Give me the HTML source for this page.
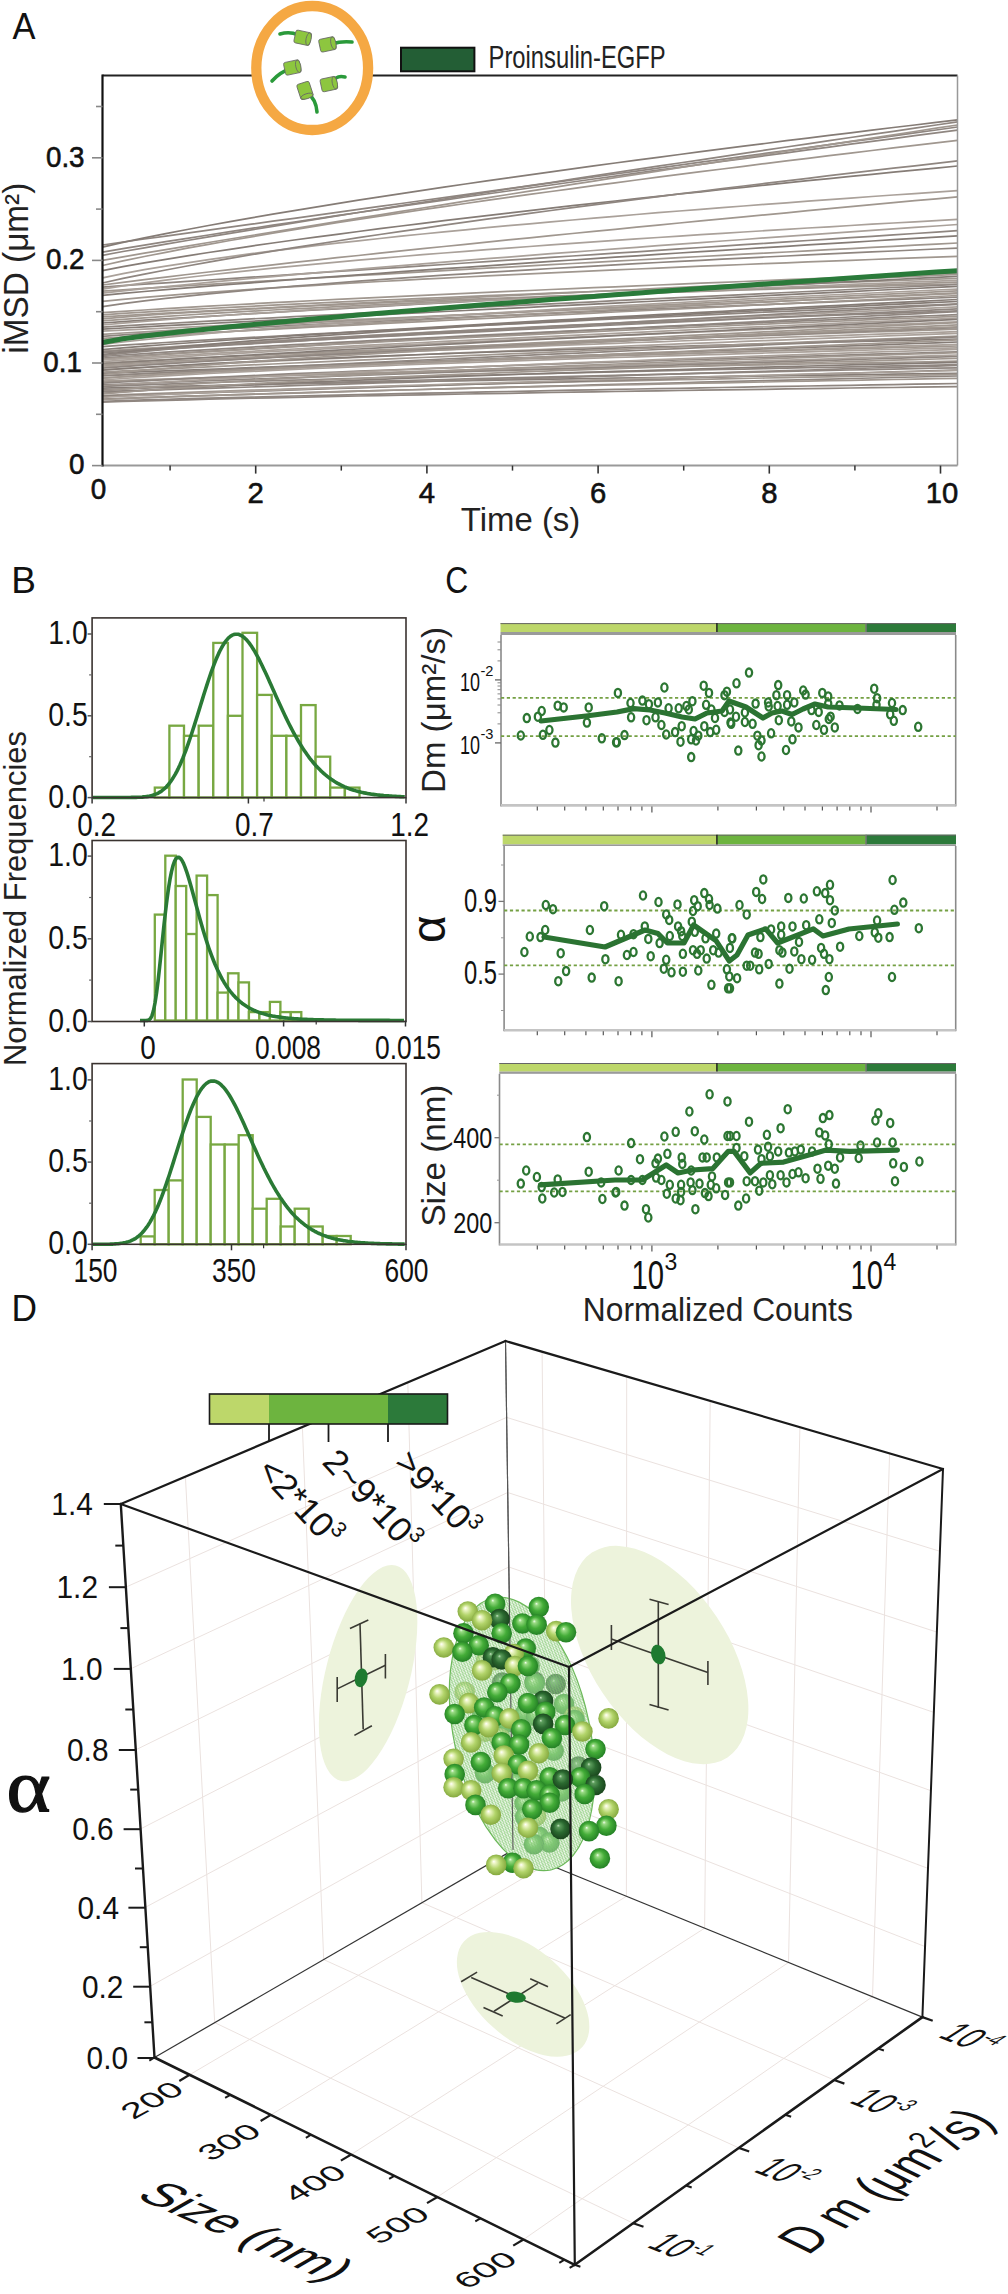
<!DOCTYPE html>
<html><head><meta charset="utf-8"><style>
html,body{margin:0;padding:0;background:#fff;}
svg{display:block;}
</style></head><body>
<svg width="1008" height="2294" viewBox="0 0 1008 2294" font-family="Liberation Sans, sans-serif">
<rect width="1008" height="2294" fill="#fff"/>
<text x="12.5" y="38.9" font-size="36.5" text-anchor="start" fill="#111" textLength="23" lengthAdjust="spacingAndGlyphs" >A</text>
<g fill="none" stroke-width="1.7">
<path d="M102.5,245.0 L123.0,242.0 L144.4,239.0 L165.8,236.1 L187.2,233.1 L208.6,230.1 L230.0,227.2 L251.4,224.2 L272.8,221.2 L294.2,218.3 L315.6,215.3 L337.0,212.4 L358.4,209.4 L379.8,206.4 L401.2,203.5 L422.6,200.5 L444.0,197.6 L465.4,194.6 L486.8,191.7 L508.2,188.7 L529.6,185.8 L551.0,182.8 L572.4,179.9 L593.8,177.0 L615.2,174.0 L636.6,171.1 L658.0,168.1 L679.4,165.2 L700.8,162.2 L722.2,159.3 L743.6,156.4 L765.0,153.4 L786.4,150.5 L807.8,147.6 L829.2,144.6 L850.6,141.7 L872.0,138.8 L893.4,135.8 L914.8,132.9 L936.2,130.0 L957.5,127.0" stroke="#8f8680"/>
<path d="M102.5,247.1 L123.0,242.4 L144.4,237.9 L165.8,233.6 L187.2,229.5 L208.6,225.5 L230.0,221.6 L251.4,217.9 L272.8,214.2 L294.2,210.6 L315.6,207.1 L337.0,203.6 L358.4,200.2 L379.8,196.9 L401.2,193.6 L422.6,190.3 L444.0,187.2 L465.4,184.0 L486.8,180.9 L508.2,177.8 L529.6,174.8 L551.0,171.8 L572.4,168.8 L593.8,165.9 L615.2,163.0 L636.6,160.1 L658.0,157.3 L679.4,154.5 L700.8,151.7 L722.2,148.9 L743.6,146.2 L765.0,143.5 L786.4,140.7 L807.8,138.1 L829.2,135.4 L850.6,132.8 L872.0,130.1 L893.4,127.5 L914.8,125.0 L936.2,122.4 L957.5,119.8" stroke="#857c76"/>
<path d="M102.5,252.2 L123.0,248.6 L144.4,245.1 L165.8,241.7 L187.2,238.3 L208.6,235.0 L230.0,231.7 L251.4,228.4 L272.8,225.2 L294.2,222.0 L315.6,218.8 L337.0,215.6 L358.4,212.5 L379.8,209.3 L401.2,206.2 L422.6,203.2 L444.0,200.1 L465.4,197.0 L486.8,194.0 L508.2,191.0 L529.6,188.0 L551.0,185.0 L572.4,182.0 L593.8,179.0 L615.2,176.1 L636.6,173.1 L658.0,170.2 L679.4,167.3 L700.8,164.4 L722.2,161.5 L743.6,158.6 L765.0,155.7 L786.4,152.8 L807.8,149.9 L829.2,147.1 L850.6,144.2 L872.0,141.4 L893.4,138.6 L914.8,135.7 L936.2,132.9 L957.5,130.1" stroke="#8f8680"/>
<path d="M102.5,255.3 L123.0,251.5 L144.4,247.8 L165.8,244.1 L187.2,240.5 L208.6,236.9 L230.0,233.3 L251.4,229.8 L272.8,226.3 L294.2,222.8 L315.6,219.3 L337.0,215.9 L358.4,212.5 L379.8,209.1 L401.2,205.7 L422.6,202.3 L444.0,199.0 L465.4,195.7 L486.8,192.3 L508.2,189.0 L529.6,185.7 L551.0,182.5 L572.4,179.2 L593.8,175.9 L615.2,172.7 L636.6,169.4 L658.0,166.2 L679.4,163.0 L700.8,159.8 L722.2,156.6 L743.6,153.4 L765.0,150.2 L786.4,147.0 L807.8,143.9 L829.2,140.7 L850.6,137.5 L872.0,134.4 L893.4,131.3 L914.8,128.1 L936.2,125.0 L957.5,121.9" stroke="#8f8680"/>
<path d="M102.5,260.4 L123.0,256.8 L144.4,253.2 L165.8,249.6 L187.2,246.1 L208.6,242.5 L230.0,239.0 L251.4,235.5 L272.8,232.0 L294.2,228.6 L315.6,225.1 L337.0,221.7 L358.4,218.2 L379.8,214.8 L401.2,211.4 L422.6,208.0 L444.0,204.6 L465.4,201.2 L486.8,197.8 L508.2,194.5 L529.6,191.1 L551.0,187.8 L572.4,184.4 L593.8,181.1 L615.2,177.7 L636.6,174.4 L658.0,171.1 L679.4,167.7 L700.8,164.4 L722.2,161.1 L743.6,157.8 L765.0,154.5 L786.4,151.2 L807.8,147.9 L829.2,144.6 L850.6,141.3 L872.0,138.1 L893.4,134.8 L914.8,131.5 L936.2,128.2 L957.5,125.0" stroke="#a0978f"/>
<path d="M102.5,265.5 L123.0,260.9 L144.4,256.5 L165.8,252.3 L187.2,248.2 L208.6,244.3 L230.0,240.5 L251.4,236.8 L272.8,233.2 L294.2,229.6 L315.6,226.2 L337.0,222.7 L358.4,219.4 L379.8,216.1 L401.2,212.9 L422.6,209.7 L444.0,206.6 L465.4,203.5 L486.8,200.4 L508.2,197.4 L529.6,194.4 L551.0,191.5 L572.4,188.6 L593.8,185.7 L615.2,182.8 L636.6,180.0 L658.0,177.2 L679.4,174.4 L700.8,171.7 L722.2,169.0 L743.6,166.3 L765.0,163.6 L786.4,160.9 L807.8,158.3 L829.2,155.7 L850.6,153.1 L872.0,150.5 L893.4,147.9 L914.8,145.4 L936.2,142.9 L957.5,140.4" stroke="#a0978f"/>
<path d="M102.5,270.7 L123.0,266.7 L144.4,262.9 L165.8,259.3 L187.2,255.8 L208.6,252.5 L230.0,249.3 L251.4,246.1 L272.8,243.0 L294.2,240.0 L315.6,237.1 L337.0,234.3 L358.4,231.5 L379.8,228.7 L401.2,226.0 L422.6,223.3 L444.0,220.7 L465.4,218.1 L486.8,215.6 L508.2,213.1 L529.6,210.6 L551.0,208.1 L572.4,205.7 L593.8,203.3 L615.2,201.0 L636.6,198.6 L658.0,196.3 L679.4,194.0 L700.8,191.8 L722.2,189.5 L743.6,187.3 L765.0,185.1 L786.4,182.9 L807.8,180.7 L829.2,178.6 L850.6,176.4 L872.0,174.3 L893.4,172.2 L914.8,170.1 L936.2,168.1 L957.5,166.0" stroke="#857c76"/>
<path d="M102.5,277.8 L123.0,273.6 L144.4,269.7 L165.8,266.2 L187.2,262.8 L208.6,259.6 L230.0,256.6 L251.4,253.7 L272.8,250.9 L294.2,248.3 L315.6,245.7 L337.0,243.2 L358.4,240.8 L379.8,238.5 L401.2,236.2 L422.6,234.0 L444.0,231.9 L465.4,229.8 L486.8,227.7 L508.2,225.7 L529.6,223.8 L551.0,221.8 L572.4,220.0 L593.8,218.1 L615.2,216.3 L636.6,214.5 L658.0,212.7 L679.4,211.0 L700.8,209.3 L722.2,207.6 L743.6,206.0 L765.0,204.4 L786.4,202.8 L807.8,201.2 L829.2,199.6 L850.6,198.1 L872.0,196.5 L893.4,195.0 L914.8,193.6 L936.2,192.1 L957.5,190.6" stroke="#aaa19a"/>
<path d="M102.5,283.0 L123.0,278.4 L144.4,274.1 L165.8,270.0 L187.2,266.0 L208.6,262.1 L230.0,258.4 L251.4,254.7 L272.8,251.2 L294.2,247.7 L315.6,244.3 L337.0,241.0 L358.4,237.7 L379.8,234.5 L401.2,231.4 L422.6,228.3 L444.0,225.2 L465.4,222.2 L486.8,219.2 L508.2,216.3 L529.6,213.4 L551.0,210.5 L572.4,207.7 L593.8,204.9 L615.2,202.1 L636.6,199.3 L658.0,196.6 L679.4,193.9 L700.8,191.3 L722.2,188.6 L743.6,186.0 L765.0,183.4 L786.4,180.8 L807.8,178.3 L829.2,175.7 L850.6,173.2 L872.0,170.7 L893.4,168.2 L914.8,165.8 L936.2,163.3 L957.5,160.9" stroke="#8f8680"/>
<path d="M102.5,285.0 L123.0,282.3 L144.4,279.7 L165.8,277.1 L187.2,274.5 L208.6,272.0 L230.0,269.6 L251.4,267.2 L272.8,264.8 L294.2,262.4 L315.6,260.1 L337.0,257.7 L358.4,255.5 L379.8,253.2 L401.2,250.9 L422.6,248.7 L444.0,246.5 L465.4,244.3 L486.8,242.1 L508.2,239.9 L529.6,237.8 L551.0,235.6 L572.4,233.5 L593.8,231.4 L615.2,229.3 L636.6,227.2 L658.0,225.1 L679.4,223.0 L700.8,220.9 L722.2,218.9 L743.6,216.8 L765.0,214.8 L786.4,212.8 L807.8,210.7 L829.2,208.7 L850.6,206.7 L872.0,204.7 L893.4,202.7 L914.8,200.7 L936.2,198.8 L957.5,196.8" stroke="#a0978f"/>
<path d="M102.5,287.1 L123.0,285.7 L144.4,284.2 L165.8,282.8 L187.2,281.4 L208.6,280.0 L230.0,278.6 L251.4,277.2 L272.8,275.8 L294.2,274.3 L315.6,272.9 L337.0,271.5 L358.4,270.1 L379.8,268.7 L401.2,267.3 L422.6,265.9 L444.0,264.5 L465.4,263.0 L486.8,261.6 L508.2,260.2 L529.6,258.8 L551.0,257.4 L572.4,256.0 L593.8,254.6 L615.2,253.2 L636.6,251.8 L658.0,250.4 L679.4,248.9 L700.8,247.5 L722.2,246.1 L743.6,244.7 L765.0,243.3 L786.4,241.9 L807.8,240.5 L829.2,239.1 L850.6,237.7 L872.0,236.3 L893.4,234.9 L914.8,233.5 L936.2,232.1 L957.5,230.6" stroke="#8f8680"/>
<path d="M102.5,289.1 L123.0,285.9 L144.4,282.9 L165.8,280.1 L187.2,277.5 L208.6,275.0 L230.0,272.6 L251.4,270.4 L272.8,268.2 L294.2,266.1 L315.6,264.1 L337.0,262.1 L358.4,260.2 L379.8,258.3 L401.2,256.5 L422.6,254.7 L444.0,253.0 L465.4,251.3 L486.8,249.7 L508.2,248.1 L529.6,246.5 L551.0,244.9 L572.4,243.4 L593.8,241.9 L615.2,240.4 L636.6,238.9 L658.0,237.5 L679.4,236.1 L700.8,234.7 L722.2,233.3 L743.6,232.0 L765.0,230.7 L786.4,229.3 L807.8,228.0 L829.2,226.8 L850.6,225.5 L872.0,224.2 L893.4,223.0 L914.8,221.8 L936.2,220.6 L957.5,219.4" stroke="#aaa19a"/>
<path d="M102.5,291.2 L123.0,289.8 L144.4,288.4 L165.8,287.1 L187.2,285.7 L208.6,284.4 L230.0,283.1 L251.4,281.8 L272.8,280.5 L294.2,279.3 L315.6,278.0 L337.0,276.8 L358.4,275.5 L379.8,274.3 L401.2,273.1 L422.6,271.9 L444.0,270.6 L465.4,269.4 L486.8,268.2 L508.2,267.1 L529.6,265.9 L551.0,264.7 L572.4,263.5 L593.8,262.3 L615.2,261.2 L636.6,260.0 L658.0,258.8 L679.4,257.7 L700.8,256.5 L722.2,255.4 L743.6,254.2 L765.0,253.1 L786.4,252.0 L807.8,250.8 L829.2,249.7 L850.6,248.6 L872.0,247.4 L893.4,246.3 L914.8,245.2 L936.2,244.1 L957.5,243.0" stroke="#a0978f"/>
<path d="M102.5,293.2 L123.0,290.9 L144.4,288.7 L165.8,286.6 L187.2,284.5 L208.6,282.4 L230.0,280.4 L251.4,278.5 L272.8,276.6 L294.2,274.7 L315.6,272.8 L337.0,271.0 L358.4,269.2 L379.8,267.4 L401.2,265.6 L422.6,263.9 L444.0,262.1 L465.4,260.4 L486.8,258.7 L508.2,257.1 L529.6,255.4 L551.0,253.7 L572.4,252.1 L593.8,250.5 L615.2,248.9 L636.6,247.3 L658.0,245.7 L679.4,244.1 L700.8,242.6 L722.2,241.0 L743.6,239.5 L765.0,237.9 L786.4,236.4 L807.8,234.9 L829.2,233.4 L850.6,231.9 L872.0,230.4 L893.4,228.9 L914.8,227.4 L936.2,226.0 L957.5,224.5" stroke="#aaa19a"/>
<path d="M102.5,295.3 L123.0,293.4 L144.4,291.5 L165.8,289.7 L187.2,287.9 L208.6,286.2 L230.0,284.5 L251.4,282.8 L272.8,281.2 L294.2,279.5 L315.6,277.9 L337.0,276.4 L358.4,274.8 L379.8,273.3 L401.2,271.7 L422.6,270.2 L444.0,268.7 L465.4,267.3 L486.8,265.8 L508.2,264.3 L529.6,262.9 L551.0,261.4 L572.4,260.0 L593.8,258.6 L615.2,257.2 L636.6,255.8 L658.0,254.4 L679.4,253.0 L700.8,251.7 L722.2,250.3 L743.6,249.0 L765.0,247.6 L786.4,246.3 L807.8,244.9 L829.2,243.6 L850.6,242.3 L872.0,241.0 L893.4,239.7 L914.8,238.4 L936.2,237.1 L957.5,235.8" stroke="#857c76"/>
<path d="M102.5,301.4 L123.0,299.4 L144.4,297.4 L165.8,295.6 L187.2,293.9 L208.6,292.3 L230.0,290.8 L251.4,289.3 L272.8,287.9 L294.2,286.6 L315.6,285.3 L337.0,284.0 L358.4,282.7 L379.8,281.5 L401.2,280.4 L422.6,279.2 L444.0,278.1 L465.4,277.0 L486.8,275.9 L508.2,274.9 L529.6,273.9 L551.0,272.9 L572.4,271.9 L593.8,270.9 L615.2,269.9 L636.6,269.0 L658.0,268.1 L679.4,267.1 L700.8,266.2 L722.2,265.4 L743.6,264.5 L765.0,263.6 L786.4,262.8 L807.8,261.9 L829.2,261.1 L850.6,260.3 L872.0,259.5 L893.4,258.7 L914.8,257.9 L936.2,257.1 L957.5,256.3" stroke="#a0978f"/>
<path d="M102.5,306.6 L123.0,303.6 L144.4,300.9 L165.8,298.4 L187.2,296.1 L208.6,293.9 L230.0,291.9 L251.4,289.9 L272.8,288.0 L294.2,286.2 L315.6,284.5 L337.0,282.8 L358.4,281.2 L379.8,279.6 L401.2,278.1 L422.6,276.6 L444.0,275.2 L465.4,273.8 L486.8,272.4 L508.2,271.1 L529.6,269.8 L551.0,268.5 L572.4,267.3 L593.8,266.1 L615.2,264.9 L636.6,263.7 L658.0,262.5 L679.4,261.4 L700.8,260.3 L722.2,259.2 L743.6,258.1 L765.0,257.0 L786.4,256.0 L807.8,254.9 L829.2,253.9 L850.6,252.9 L872.0,251.9 L893.4,251.0 L914.8,250.0 L936.2,249.0 L957.5,248.1" stroke="#8f8680"/>
<path d="M102.5,312.7 L123.0,311.3 L144.4,310.0 L165.8,308.7 L187.2,307.4 L208.6,306.2 L230.0,305.0 L251.4,303.8 L272.8,302.7 L294.2,301.6 L315.6,300.5 L337.0,299.4 L358.4,298.4 L379.8,297.4 L401.2,296.3 L422.6,295.3 L444.0,294.3 L465.4,293.3 L486.8,292.4 L508.2,291.4 L529.6,290.5 L551.0,289.5 L572.4,288.6 L593.8,287.7 L615.2,286.8 L636.6,285.9 L658.0,285.0 L679.4,284.1 L700.8,283.2 L722.2,282.3 L743.6,281.5 L765.0,280.6 L786.4,279.7 L807.8,278.9 L829.2,278.0 L850.6,277.2 L872.0,276.4 L893.4,275.6 L914.8,274.7 L936.2,273.9 L957.5,273.1" stroke="#a0978f"/>
<path d="M102.5,314.8 L123.0,313.4 L144.4,312.1 L165.8,310.8 L187.2,309.6 L208.6,308.5 L230.0,307.4 L251.4,306.3 L272.8,305.2 L294.2,304.2 L315.6,303.2 L337.0,302.2 L358.4,301.2 L379.8,300.2 L401.2,299.3 L422.6,298.4 L444.0,297.5 L465.4,296.6 L486.8,295.7 L508.2,294.8 L529.6,294.0 L551.0,293.1 L572.4,292.3 L593.8,291.5 L615.2,290.6 L636.6,289.8 L658.0,289.0 L679.4,288.2 L700.8,287.4 L722.2,286.7 L743.6,285.9 L765.0,285.1 L786.4,284.4 L807.8,283.6 L829.2,282.9 L850.6,282.1 L872.0,281.4 L893.4,280.7 L914.8,280.0 L936.2,279.2 L957.5,278.5" stroke="#a0978f"/>
<path d="M102.5,316.8 L123.0,315.6 L144.4,314.4 L165.8,313.2 L187.2,312.1 L208.6,310.9 L230.0,309.8 L251.4,308.7 L272.8,307.6 L294.2,306.4 L315.6,305.3 L337.0,304.2 L358.4,303.2 L379.8,302.1 L401.2,301.0 L422.6,299.9 L444.0,298.9 L465.4,297.8 L486.8,296.7 L508.2,295.7 L529.6,294.6 L551.0,293.6 L572.4,292.6 L593.8,291.5 L615.2,290.5 L636.6,289.5 L658.0,288.4 L679.4,287.4 L700.8,286.4 L722.2,285.4 L743.6,284.4 L765.0,283.3 L786.4,282.3 L807.8,281.3 L829.2,280.3 L850.6,279.3 L872.0,278.3 L893.4,277.3 L914.8,276.3 L936.2,275.3 L957.5,274.4" stroke="#a0978f"/>
<path d="M102.5,318.9 L123.0,317.1 L144.4,315.5 L165.8,314.0 L187.2,312.7 L208.6,311.4 L230.0,310.1 L251.4,309.0 L272.8,307.9 L294.2,306.8 L315.6,305.7 L337.0,304.8 L358.4,303.8 L379.8,302.9 L401.2,302.0 L422.6,301.1 L444.0,300.2 L465.4,299.4 L486.8,298.6 L508.2,297.8 L529.6,297.0 L551.0,296.2 L572.4,295.5 L593.8,294.8 L615.2,294.1 L636.6,293.4 L658.0,292.7 L679.4,292.0 L700.8,291.3 L722.2,290.7 L743.6,290.0 L765.0,289.4 L786.4,288.7 L807.8,288.1 L829.2,287.5 L850.6,286.9 L872.0,286.3 L893.4,285.7 L914.8,285.2 L936.2,284.6 L957.5,284.0" stroke="#a0978f"/>
<path d="M102.5,320.9 L123.0,319.3 L144.4,317.8 L165.8,316.3 L187.2,315.0 L208.6,313.7 L230.0,312.4 L251.4,311.2 L272.8,310.0 L294.2,308.9 L315.6,307.8 L337.0,306.7 L358.4,305.7 L379.8,304.6 L401.2,303.6 L422.6,302.6 L444.0,301.7 L465.4,300.7 L486.8,299.8 L508.2,298.9 L529.6,298.0 L551.0,297.1 L572.4,296.2 L593.8,295.4 L615.2,294.5 L636.6,293.7 L658.0,292.8 L679.4,292.0 L700.8,291.2 L722.2,290.4 L743.6,289.6 L765.0,288.9 L786.4,288.1 L807.8,287.3 L829.2,286.6 L850.6,285.8 L872.0,285.1 L893.4,284.4 L914.8,283.6 L936.2,282.9 L957.5,282.2" stroke="#a0978f"/>
<path d="M102.5,323.0 L123.0,321.6 L144.4,320.2 L165.8,318.9 L187.2,317.6 L208.6,316.3 L230.0,315.0 L251.4,313.7 L272.8,312.5 L294.2,311.2 L315.6,310.0 L337.0,308.8 L358.4,307.6 L379.8,306.4 L401.2,305.2 L422.6,304.0 L444.0,302.8 L465.4,301.7 L486.8,300.5 L508.2,299.4 L529.6,298.2 L551.0,297.1 L572.4,296.0 L593.8,294.8 L615.2,293.7 L636.6,292.6 L658.0,291.5 L679.4,290.4 L700.8,289.3 L722.2,288.2 L743.6,287.1 L765.0,286.0 L786.4,284.9 L807.8,283.8 L829.2,282.7 L850.6,281.6 L872.0,280.6 L893.4,279.5 L914.8,278.4 L936.2,277.4 L957.5,276.3" stroke="#857c76"/>
<path d="M102.5,325.0 L123.0,323.1 L144.4,321.3 L165.8,319.6 L187.2,318.0 L208.6,316.5 L230.0,315.0 L251.4,313.6 L272.8,312.3 L294.2,310.9 L315.6,309.6 L337.0,308.4 L358.4,307.2 L379.8,306.0 L401.2,304.8 L422.6,303.7 L444.0,302.6 L465.4,301.5 L486.8,300.4 L508.2,299.4 L529.6,298.3 L551.0,297.3 L572.4,296.3 L593.8,295.3 L615.2,294.4 L636.6,293.4 L658.0,292.5 L679.4,291.5 L700.8,290.6 L722.2,289.7 L743.6,288.8 L765.0,287.9 L786.4,287.0 L807.8,286.2 L829.2,285.3 L850.6,284.4 L872.0,283.6 L893.4,282.8 L914.8,281.9 L936.2,281.1 L957.5,280.3" stroke="#aaa19a"/>
<path d="M102.5,327.1 L123.0,325.9 L144.4,324.7 L165.8,323.5 L187.2,322.4 L208.6,321.2 L230.0,320.1 L251.4,318.9 L272.8,317.8 L294.2,316.7 L315.6,315.6 L337.0,314.5 L358.4,313.4 L379.8,312.3 L401.2,311.3 L422.6,310.2 L444.0,309.1 L465.4,308.1 L486.8,307.0 L508.2,305.9 L529.6,304.9 L551.0,303.8 L572.4,302.8 L593.8,301.8 L615.2,300.7 L636.6,299.7 L658.0,298.6 L679.4,297.6 L700.8,296.6 L722.2,295.6 L743.6,294.6 L765.0,293.5 L786.4,292.5 L807.8,291.5 L829.2,290.5 L850.6,289.5 L872.0,288.5 L893.4,287.5 L914.8,286.5 L936.2,285.5 L957.5,284.5" stroke="#8f8680"/>
<path d="M102.5,329.1 L123.0,328.0 L144.4,326.9 L165.8,325.7 L187.2,324.6 L208.6,323.5 L230.0,322.4 L251.4,321.3 L272.8,320.2 L294.2,319.1 L315.6,318.0 L337.0,316.9 L358.4,315.8 L379.8,314.8 L401.2,313.7 L422.6,312.6 L444.0,311.5 L465.4,310.5 L486.8,309.4 L508.2,308.3 L529.6,307.3 L551.0,306.2 L572.4,305.2 L593.8,304.1 L615.2,303.1 L636.6,302.0 L658.0,301.0 L679.4,299.9 L700.8,298.9 L722.2,297.8 L743.6,296.8 L765.0,295.7 L786.4,294.7 L807.8,293.6 L829.2,292.6 L850.6,291.6 L872.0,290.5 L893.4,289.5 L914.8,288.5 L936.2,287.4 L957.5,286.4" stroke="#857c76"/>
<path d="M102.5,331.2 L123.0,330.2 L144.4,329.2 L165.8,328.2 L187.2,327.2 L208.6,326.2 L230.0,325.2 L251.4,324.2 L272.8,323.3 L294.2,322.3 L315.6,321.3 L337.0,320.4 L358.4,319.4 L379.8,318.5 L401.2,317.5 L422.6,316.6 L444.0,315.7 L465.4,314.7 L486.8,313.8 L508.2,312.8 L529.6,311.9 L551.0,311.0 L572.4,310.0 L593.8,309.1 L615.2,308.2 L636.6,307.3 L658.0,306.4 L679.4,305.4 L700.8,304.5 L722.2,303.6 L743.6,302.7 L765.0,301.8 L786.4,300.9 L807.8,299.9 L829.2,299.0 L850.6,298.1 L872.0,297.2 L893.4,296.3 L914.8,295.4 L936.2,294.5 L957.5,293.6" stroke="#aaa19a"/>
<path d="M102.5,334.3 L123.0,333.0 L144.4,331.8 L165.8,330.6 L187.2,329.4 L208.6,328.2 L230.0,327.1 L251.4,325.9 L272.8,324.8 L294.2,323.6 L315.6,322.5 L337.0,321.4 L358.4,320.3 L379.8,319.2 L401.2,318.1 L422.6,317.0 L444.0,315.9 L465.4,314.8 L486.8,313.7 L508.2,312.6 L529.6,311.5 L551.0,310.5 L572.4,309.4 L593.8,308.3 L615.2,307.3 L636.6,306.2 L658.0,305.2 L679.4,304.1 L700.8,303.1 L722.2,302.0 L743.6,301.0 L765.0,300.0 L786.4,298.9 L807.8,297.9 L829.2,296.9 L850.6,295.9 L872.0,294.8 L893.4,293.8 L914.8,292.8 L936.2,291.8 L957.5,290.8" stroke="#a0978f"/>
<path d="M102.5,336.3 L123.0,334.9 L144.4,333.6 L165.8,332.3 L187.2,331.1 L208.6,329.9 L230.0,328.7 L251.4,327.6 L272.8,326.5 L294.2,325.4 L315.6,324.3 L337.0,323.2 L358.4,322.2 L379.8,321.2 L401.2,320.1 L422.6,319.2 L444.0,318.2 L465.4,317.2 L486.8,316.2 L508.2,315.3 L529.6,314.4 L551.0,313.4 L572.4,312.5 L593.8,311.6 L615.2,310.7 L636.6,309.8 L658.0,308.9 L679.4,308.0 L700.8,307.2 L722.2,306.3 L743.6,305.4 L765.0,304.6 L786.4,303.7 L807.8,302.9 L829.2,302.1 L850.6,301.2 L872.0,300.4 L893.4,299.6 L914.8,298.8 L936.2,298.0 L957.5,297.2" stroke="#8f8680"/>
<path d="M102.5,338.4 L123.0,337.2 L144.4,336.0 L165.8,334.9 L187.2,333.7 L208.6,332.6 L230.0,331.5 L251.4,330.3 L272.8,329.2 L294.2,328.1 L315.6,327.0 L337.0,325.9 L358.4,324.8 L379.8,323.7 L401.2,322.6 L422.6,321.6 L444.0,320.5 L465.4,319.4 L486.8,318.4 L508.2,317.3 L529.6,316.2 L551.0,315.2 L572.4,314.1 L593.8,313.1 L615.2,312.0 L636.6,311.0 L658.0,309.9 L679.4,308.9 L700.8,307.8 L722.2,306.8 L743.6,305.7 L765.0,304.7 L786.4,303.7 L807.8,302.6 L829.2,301.6 L850.6,300.6 L872.0,299.6 L893.4,298.5 L914.8,297.5 L936.2,296.5 L957.5,295.5" stroke="#a0978f"/>
<path d="M102.5,340.4 L123.0,338.8 L144.4,337.3 L165.8,335.8 L187.2,334.3 L208.6,332.9 L230.0,331.5 L251.4,330.2 L272.8,328.9 L294.2,327.5 L315.6,326.2 L337.0,325.0 L358.4,323.7 L379.8,322.5 L401.2,321.3 L422.6,320.0 L444.0,318.8 L465.4,317.7 L486.8,316.5 L508.2,315.3 L529.6,314.2 L551.0,313.0 L572.4,311.9 L593.8,310.8 L615.2,309.7 L636.6,308.6 L658.0,307.5 L679.4,306.4 L700.8,305.3 L722.2,304.2 L743.6,303.1 L765.0,302.1 L786.4,301.0 L807.8,300.0 L829.2,298.9 L850.6,297.9 L872.0,296.9 L893.4,295.8 L914.8,294.8 L936.2,293.8 L957.5,292.8" stroke="#a0978f"/>
<path d="M102.5,344.5 L123.0,342.0 L144.4,339.7 L165.8,337.5 L187.2,335.4 L208.6,333.4 L230.0,331.6 L251.4,329.8 L272.8,328.0 L294.2,326.4 L315.6,324.8 L337.0,323.2 L358.4,321.7 L379.8,320.2 L401.2,318.8 L422.6,317.4 L444.0,316.0 L465.4,314.6 L486.8,313.3 L508.2,312.0 L529.6,310.8 L551.0,309.5 L572.4,308.3 L593.8,307.1 L615.2,305.9 L636.6,304.8 L658.0,303.6 L679.4,302.5 L700.8,301.4 L722.2,300.3 L743.6,299.2 L765.0,298.1 L786.4,297.1 L807.8,296.0 L829.2,295.0 L850.6,294.0 L872.0,293.0 L893.4,292.0 L914.8,291.0 L936.2,290.0 L957.5,289.1" stroke="#aaa19a"/>
<path d="M102.5,346.6 L123.0,345.2 L144.4,343.8 L165.8,342.5 L187.2,341.2 L208.6,339.9 L230.0,338.7 L251.4,337.4 L272.8,336.3 L294.2,335.1 L315.6,333.9 L337.0,332.8 L358.4,331.7 L379.8,330.6 L401.2,329.5 L422.6,328.4 L444.0,327.3 L465.4,326.2 L486.8,325.2 L508.2,324.1 L529.6,323.1 L551.0,322.1 L572.4,321.1 L593.8,320.0 L615.2,319.0 L636.6,318.1 L658.0,317.1 L679.4,316.1 L700.8,315.1 L722.2,314.1 L743.6,313.2 L765.0,312.2 L786.4,311.3 L807.8,310.3 L829.2,309.4 L850.6,308.5 L872.0,307.5 L893.4,306.6 L914.8,305.7 L936.2,304.8 L957.5,303.9" stroke="#8f8680"/>
<path d="M102.5,349.6 L123.0,347.8 L144.4,346.2 L165.8,344.5 L187.2,343.0 L208.6,341.5 L230.0,340.0 L251.4,338.5 L272.8,337.1 L294.2,335.7 L315.6,334.3 L337.0,333.0 L358.4,331.7 L379.8,330.4 L401.2,329.1 L422.6,327.8 L444.0,326.5 L465.4,325.3 L486.8,324.1 L508.2,322.8 L529.6,321.6 L551.0,320.4 L572.4,319.3 L593.8,318.1 L615.2,316.9 L636.6,315.8 L658.0,314.7 L679.4,313.5 L700.8,312.4 L722.2,311.3 L743.6,310.2 L765.0,309.1 L786.4,308.0 L807.8,306.9 L829.2,305.8 L850.6,304.8 L872.0,303.7 L893.4,302.6 L914.8,301.6 L936.2,300.5 L957.5,299.5" stroke="#857c76"/>
<path d="M102.5,351.1 L123.0,349.7 L144.4,348.4 L165.8,347.0 L187.2,345.7 L208.6,344.5 L230.0,343.2 L251.4,342.0 L272.8,340.8 L294.2,339.6 L315.6,338.4 L337.0,337.2 L358.4,336.1 L379.8,334.9 L401.2,333.8 L422.6,332.7 L444.0,331.6 L465.4,330.5 L486.8,329.4 L508.2,328.3 L529.6,327.2 L551.0,326.1 L572.4,325.1 L593.8,324.0 L615.2,323.0 L636.6,321.9 L658.0,320.9 L679.4,319.9 L700.8,318.8 L722.2,317.8 L743.6,316.8 L765.0,315.8 L786.4,314.8 L807.8,313.8 L829.2,312.8 L850.6,311.8 L872.0,310.8 L893.4,309.8 L914.8,308.9 L936.2,307.9 L957.5,306.9" stroke="#aaa19a"/>
<path d="M102.5,351.7 L123.0,350.5 L144.4,349.2 L165.8,348.0 L187.2,346.8 L208.6,345.7 L230.0,344.5 L251.4,343.3 L272.8,342.2 L294.2,341.1 L315.6,339.9 L337.0,338.8 L358.4,337.7 L379.8,336.6 L401.2,335.6 L422.6,334.5 L444.0,333.4 L465.4,332.3 L486.8,331.3 L508.2,330.2 L529.6,329.2 L551.0,328.1 L572.4,327.1 L593.8,326.0 L615.2,325.0 L636.6,324.0 L658.0,322.9 L679.4,321.9 L700.8,320.9 L722.2,319.9 L743.6,318.9 L765.0,317.9 L786.4,316.9 L807.8,315.9 L829.2,314.9 L850.6,313.9 L872.0,312.9 L893.4,311.9 L914.8,310.9 L936.2,309.9 L957.5,308.9" stroke="#8f8680"/>
<path d="M102.5,352.8 L123.0,351.5 L144.4,350.2 L165.8,348.9 L187.2,347.6 L208.6,346.3 L230.0,345.0 L251.4,343.8 L272.8,342.5 L294.2,341.3 L315.6,340.0 L337.0,338.8 L358.4,337.5 L379.8,336.3 L401.2,335.1 L422.6,333.9 L444.0,332.7 L465.4,331.5 L486.8,330.2 L508.2,329.0 L529.6,327.8 L551.0,326.6 L572.4,325.4 L593.8,324.3 L615.2,323.1 L636.6,321.9 L658.0,320.7 L679.4,319.5 L700.8,318.3 L722.2,317.2 L743.6,316.0 L765.0,314.8 L786.4,313.6 L807.8,312.5 L829.2,311.3 L850.6,310.1 L872.0,309.0 L893.4,307.8 L914.8,306.7 L936.2,305.5 L957.5,304.3" stroke="#8f8680"/>
<path d="M102.5,354.6 L123.0,352.3 L144.4,350.1 L165.8,348.1 L187.2,346.2 L208.6,344.4 L230.0,342.6 L251.4,340.9 L272.8,339.3 L294.2,337.7 L315.6,336.2 L337.0,334.7 L358.4,333.3 L379.8,331.9 L401.2,330.5 L422.6,329.1 L444.0,327.8 L465.4,326.5 L486.8,325.2 L508.2,324.0 L529.6,322.8 L551.0,321.6 L572.4,320.4 L593.8,319.2 L615.2,318.1 L636.6,316.9 L658.0,315.8 L679.4,314.7 L700.8,313.6 L722.2,312.5 L743.6,311.5 L765.0,310.4 L786.4,309.4 L807.8,308.4 L829.2,307.3 L850.6,306.3 L872.0,305.3 L893.4,304.4 L914.8,303.4 L936.2,302.4 L957.5,301.5" stroke="#857c76"/>
<path d="M102.5,355.5 L123.0,353.3 L144.4,351.3 L165.8,349.4 L187.2,347.6 L208.6,346.0 L230.0,344.4 L251.4,342.9 L272.8,341.5 L294.2,340.1 L315.6,338.8 L337.0,337.5 L358.4,336.3 L379.8,335.1 L401.2,334.0 L422.6,332.8 L444.0,331.7 L465.4,330.7 L486.8,329.6 L508.2,328.6 L529.6,327.6 L551.0,326.6 L572.4,325.7 L593.8,324.8 L615.2,323.8 L636.6,322.9 L658.0,322.0 L679.4,321.2 L700.8,320.3 L722.2,319.5 L743.6,318.6 L765.0,317.8 L786.4,317.0 L807.8,316.2 L829.2,315.4 L850.6,314.7 L872.0,313.9 L893.4,313.1 L914.8,312.4 L936.2,311.7 L957.5,310.9" stroke="#8f8680"/>
<path d="M102.5,356.5 L123.0,355.0 L144.4,353.6 L165.8,352.2 L187.2,350.8 L208.6,349.6 L230.0,348.3 L251.4,347.1 L272.8,345.9 L294.2,344.7 L315.6,343.5 L337.0,342.4 L358.4,341.3 L379.8,340.2 L401.2,339.1 L422.6,338.0 L444.0,337.0 L465.4,335.9 L486.8,334.9 L508.2,333.9 L529.6,332.9 L551.0,331.9 L572.4,330.9 L593.8,330.0 L615.2,329.0 L636.6,328.0 L658.0,327.1 L679.4,326.2 L700.8,325.2 L722.2,324.3 L743.6,323.4 L765.0,322.5 L786.4,321.6 L807.8,320.7 L829.2,319.8 L850.6,318.9 L872.0,318.1 L893.4,317.2 L914.8,316.3 L936.2,315.5 L957.5,314.6" stroke="#8f8680"/>
<path d="M102.5,358.0 L123.0,356.6 L144.4,355.3 L165.8,353.9 L187.2,352.6 L208.6,351.3 L230.0,350.1 L251.4,348.8 L272.8,347.6 L294.2,346.3 L315.6,345.1 L337.0,343.9 L358.4,342.7 L379.8,341.5 L401.2,340.3 L422.6,339.2 L444.0,338.0 L465.4,336.8 L486.8,335.7 L508.2,334.6 L529.6,333.4 L551.0,332.3 L572.4,331.2 L593.8,330.0 L615.2,328.9 L636.6,327.8 L658.0,326.7 L679.4,325.6 L700.8,324.5 L722.2,323.4 L743.6,322.3 L765.0,321.3 L786.4,320.2 L807.8,319.1 L829.2,318.0 L850.6,317.0 L872.0,315.9 L893.4,314.8 L914.8,313.8 L936.2,312.7 L957.5,311.7" stroke="#8f8680"/>
<path d="M102.5,359.1 L123.0,357.4 L144.4,355.9 L165.8,354.4 L187.2,353.0 L208.6,351.7 L230.0,350.4 L251.4,349.1 L272.8,347.8 L294.2,346.6 L315.6,345.4 L337.0,344.2 L358.4,343.1 L379.8,342.0 L401.2,340.9 L422.6,339.8 L444.0,338.7 L465.4,337.7 L486.8,336.6 L508.2,335.6 L529.6,334.6 L551.0,333.6 L572.4,332.6 L593.8,331.6 L615.2,330.6 L636.6,329.7 L658.0,328.7 L679.4,327.8 L700.8,326.9 L722.2,326.0 L743.6,325.0 L765.0,324.1 L786.4,323.2 L807.8,322.4 L829.2,321.5 L850.6,320.6 L872.0,319.7 L893.4,318.9 L914.8,318.0 L936.2,317.2 L957.5,316.3" stroke="#a0978f"/>
<path d="M102.5,359.9 L123.0,358.6 L144.4,357.3 L165.8,356.1 L187.2,354.8 L208.6,353.6 L230.0,352.4 L251.4,351.3 L272.8,350.1 L294.2,349.0 L315.6,347.9 L337.0,346.8 L358.4,345.7 L379.8,344.6 L401.2,343.5 L422.6,342.5 L444.0,341.4 L465.4,340.4 L486.8,339.4 L508.2,338.3 L529.6,337.3 L551.0,336.3 L572.4,335.3 L593.8,334.3 L615.2,333.3 L636.6,332.3 L658.0,331.3 L679.4,330.3 L700.8,329.4 L722.2,328.4 L743.6,327.4 L765.0,326.5 L786.4,325.5 L807.8,324.6 L829.2,323.6 L850.6,322.7 L872.0,321.7 L893.4,320.8 L914.8,319.9 L936.2,319.0 L957.5,318.0" stroke="#aaa19a"/>
<path d="M102.5,361.7 L123.0,360.2 L144.4,358.8 L165.8,357.5 L187.2,356.3 L208.6,355.0 L230.0,353.8 L251.4,352.7 L272.8,351.5 L294.2,350.4 L315.6,349.3 L337.0,348.2 L358.4,347.2 L379.8,346.1 L401.2,345.1 L422.6,344.1 L444.0,343.1 L465.4,342.1 L486.8,341.1 L508.2,340.2 L529.6,339.2 L551.0,338.3 L572.4,337.3 L593.8,336.4 L615.2,335.5 L636.6,334.6 L658.0,333.7 L679.4,332.8 L700.8,331.9 L722.2,331.1 L743.6,330.2 L765.0,329.3 L786.4,328.5 L807.8,327.6 L829.2,326.8 L850.6,326.0 L872.0,325.1 L893.4,324.3 L914.8,323.5 L936.2,322.7 L957.5,321.9" stroke="#aaa19a"/>
<path d="M102.5,363.0 L123.0,361.8 L144.4,360.6 L165.8,359.5 L187.2,358.4 L208.6,357.4 L230.0,356.3 L251.4,355.4 L272.8,354.4 L294.2,353.4 L315.6,352.5 L337.0,351.6 L358.4,350.7 L379.8,349.8 L401.2,348.9 L422.6,348.1 L444.0,347.2 L465.4,346.4 L486.8,345.6 L508.2,344.7 L529.6,343.9 L551.0,343.1 L572.4,342.4 L593.8,341.6 L615.2,340.8 L636.6,340.0 L658.0,339.3 L679.4,338.5 L700.8,337.8 L722.2,337.0 L743.6,336.3 L765.0,335.6 L786.4,334.8 L807.8,334.1 L829.2,333.4 L850.6,332.7 L872.0,332.0 L893.4,331.3 L914.8,330.6 L936.2,329.9 L957.5,329.2" stroke="#a0978f"/>
<path d="M102.5,364.2 L123.0,362.7 L144.4,361.4 L165.8,360.0 L187.2,358.7 L208.6,357.5 L230.0,356.2 L251.4,355.0 L272.8,353.7 L294.2,352.5 L315.6,351.3 L337.0,350.2 L358.4,349.0 L379.8,347.8 L401.2,346.7 L422.6,345.5 L444.0,344.4 L465.4,343.3 L486.8,342.2 L508.2,341.1 L529.6,340.0 L551.0,338.9 L572.4,337.8 L593.8,336.8 L615.2,335.7 L636.6,334.6 L658.0,333.6 L679.4,332.5 L700.8,331.5 L722.2,330.5 L743.6,329.4 L765.0,328.4 L786.4,327.4 L807.8,326.4 L829.2,325.3 L850.6,324.3 L872.0,323.3 L893.4,322.3 L914.8,321.3 L936.2,320.3 L957.5,319.3" stroke="#857c76"/>
<path d="M102.5,364.7 L123.0,363.6 L144.4,362.5 L165.8,361.4 L187.2,360.3 L208.6,359.2 L230.0,358.1 L251.4,357.0 L272.8,356.0 L294.2,354.9 L315.6,353.8 L337.0,352.7 L358.4,351.7 L379.8,350.6 L401.2,349.6 L422.6,348.5 L444.0,347.4 L465.4,346.4 L486.8,345.3 L508.2,344.3 L529.6,343.2 L551.0,342.2 L572.4,341.1 L593.8,340.1 L615.2,339.1 L636.6,338.0 L658.0,337.0 L679.4,335.9 L700.8,334.9 L722.2,333.9 L743.6,332.8 L765.0,331.8 L786.4,330.8 L807.8,329.8 L829.2,328.7 L850.6,327.7 L872.0,326.7 L893.4,325.7 L914.8,324.6 L936.2,323.6 L957.5,322.6" stroke="#a0978f"/>
<path d="M102.5,366.1 L123.0,364.9 L144.4,363.8 L165.8,362.7 L187.2,361.5 L208.6,360.4 L230.0,359.3 L251.4,358.2 L272.8,357.2 L294.2,356.1 L315.6,355.0 L337.0,353.9 L358.4,352.9 L379.8,351.8 L401.2,350.8 L422.6,349.8 L444.0,348.7 L465.4,347.7 L486.8,346.7 L508.2,345.6 L529.6,344.6 L551.0,343.6 L572.4,342.6 L593.8,341.6 L615.2,340.6 L636.6,339.6 L658.0,338.6 L679.4,337.6 L700.8,336.6 L722.2,335.6 L743.6,334.6 L765.0,333.6 L786.4,332.6 L807.8,331.7 L829.2,330.7 L850.6,329.7 L872.0,328.7 L893.4,327.7 L914.8,326.8 L936.2,325.8 L957.5,324.8" stroke="#a0978f"/>
<path d="M102.5,366.9 L123.0,365.6 L144.4,364.3 L165.8,363.1 L187.2,361.9 L208.6,360.7 L230.0,359.6 L251.4,358.6 L272.8,357.5 L294.2,356.5 L315.6,355.5 L337.0,354.6 L358.4,353.6 L379.8,352.7 L401.2,351.8 L422.6,350.9 L444.0,350.0 L465.4,349.1 L486.8,348.2 L508.2,347.4 L529.6,346.6 L551.0,345.7 L572.4,344.9 L593.8,344.1 L615.2,343.3 L636.6,342.5 L658.0,341.8 L679.4,341.0 L700.8,340.2 L722.2,339.5 L743.6,338.7 L765.0,338.0 L786.4,337.2 L807.8,336.5 L829.2,335.8 L850.6,335.1 L872.0,334.4 L893.4,333.7 L914.8,333.0 L936.2,332.3 L957.5,331.6" stroke="#aaa19a"/>
<path d="M102.5,368.2 L123.0,366.6 L144.4,365.2 L165.8,363.8 L187.2,362.5 L208.6,361.2 L230.0,359.9 L251.4,358.7 L272.8,357.5 L294.2,356.4 L315.6,355.2 L337.0,354.1 L358.4,353.1 L379.8,352.0 L401.2,350.9 L422.6,349.9 L444.0,348.9 L465.4,347.9 L486.8,346.9 L508.2,345.9 L529.6,345.0 L551.0,344.0 L572.4,343.1 L593.8,342.2 L615.2,341.3 L636.6,340.4 L658.0,339.5 L679.4,338.6 L700.8,337.7 L722.2,336.8 L743.6,336.0 L765.0,335.1 L786.4,334.3 L807.8,333.4 L829.2,332.6 L850.6,331.8 L872.0,330.9 L893.4,330.1 L914.8,329.3 L936.2,328.5 L957.5,327.7" stroke="#8f8680"/>
<path d="M102.5,369.8 L123.0,368.7 L144.4,367.5 L165.8,366.4 L187.2,365.3 L208.6,364.3 L230.0,363.2 L251.4,362.2 L272.8,361.2 L294.2,360.2 L315.6,359.2 L337.0,358.3 L358.4,357.3 L379.8,356.4 L401.2,355.4 L422.6,354.5 L444.0,353.6 L465.4,352.7 L486.8,351.8 L508.2,350.9 L529.6,350.0 L551.0,349.1 L572.4,348.2 L593.8,347.4 L615.2,346.5 L636.6,345.6 L658.0,344.8 L679.4,343.9 L700.8,343.1 L722.2,342.3 L743.6,341.4 L765.0,340.6 L786.4,339.8 L807.8,338.9 L829.2,338.1 L850.6,337.3 L872.0,336.5 L893.4,335.7 L914.8,334.9 L936.2,334.1 L957.5,333.3" stroke="#aaa19a"/>
<path d="M102.5,370.2 L123.0,368.7 L144.4,367.3 L165.8,366.0 L187.2,364.8 L208.6,363.6 L230.0,362.6 L251.4,361.5 L272.8,360.5 L294.2,359.6 L315.6,358.7 L337.0,357.8 L358.4,356.9 L379.8,356.1 L401.2,355.3 L422.6,354.5 L444.0,353.7 L465.4,353.0 L486.8,352.2 L508.2,351.5 L529.6,350.8 L551.0,350.1 L572.4,349.5 L593.8,348.8 L615.2,348.2 L636.6,347.5 L658.0,346.9 L679.4,346.3 L700.8,345.7 L722.2,345.1 L743.6,344.5 L765.0,343.9 L786.4,343.3 L807.8,342.8 L829.2,342.2 L850.6,341.7 L872.0,341.1 L893.4,340.6 L914.8,340.1 L936.2,339.5 L957.5,339.0" stroke="#857c76"/>
<path d="M102.5,372.0 L123.0,370.9 L144.4,369.9 L165.8,368.9 L187.2,367.9 L208.6,366.9 L230.0,365.9 L251.4,364.9 L272.8,364.0 L294.2,363.0 L315.6,362.1 L337.0,361.2 L358.4,360.2 L379.8,359.3 L401.2,358.4 L422.6,357.5 L444.0,356.6 L465.4,355.7 L486.8,354.8 L508.2,353.9 L529.6,353.1 L551.0,352.2 L572.4,351.3 L593.8,350.4 L615.2,349.6 L636.6,348.7 L658.0,347.8 L679.4,347.0 L700.8,346.1 L722.2,345.3 L743.6,344.4 L765.0,343.6 L786.4,342.8 L807.8,341.9 L829.2,341.1 L850.6,340.3 L872.0,339.4 L893.4,338.6 L914.8,337.8 L936.2,336.9 L957.5,336.1" stroke="#a0978f"/>
<path d="M102.5,373.4 L123.0,372.6 L144.4,371.7 L165.8,370.9 L187.2,370.1 L208.6,369.3 L230.0,368.5 L251.4,367.7 L272.8,366.9 L294.2,366.1 L315.6,365.3 L337.0,364.5 L358.4,363.7 L379.8,362.9 L401.2,362.2 L422.6,361.4 L444.0,360.6 L465.4,359.8 L486.8,359.0 L508.2,358.2 L529.6,357.5 L551.0,356.7 L572.4,355.9 L593.8,355.1 L615.2,354.3 L636.6,353.6 L658.0,352.8 L679.4,352.0 L700.8,351.2 L722.2,350.5 L743.6,349.7 L765.0,348.9 L786.4,348.2 L807.8,347.4 L829.2,346.6 L850.6,345.8 L872.0,345.1 L893.4,344.3 L914.8,343.5 L936.2,342.8 L957.5,342.0" stroke="#857c76"/>
<path d="M102.5,374.5 L123.0,372.3 L144.4,370.2 L165.8,368.3 L187.2,366.5 L208.6,364.8 L230.0,363.2 L251.4,361.6 L272.8,360.2 L294.2,358.7 L315.6,357.3 L337.0,356.0 L358.4,354.7 L379.8,353.4 L401.2,352.1 L422.6,350.9 L444.0,349.8 L465.4,348.6 L486.8,347.5 L508.2,346.4 L529.6,345.3 L551.0,344.2 L572.4,343.2 L593.8,342.2 L615.2,341.1 L636.6,340.2 L658.0,339.2 L679.4,338.2 L700.8,337.3 L722.2,336.3 L743.6,335.4 L765.0,334.5 L786.4,333.6 L807.8,332.7 L829.2,331.8 L850.6,331.0 L872.0,330.1 L893.4,329.3 L914.8,328.4 L936.2,327.6 L957.5,326.8" stroke="#a0978f"/>
<path d="M102.5,375.5 L123.0,374.6 L144.4,373.7 L165.8,372.8 L187.2,371.9 L208.6,371.0 L230.0,370.1 L251.4,369.2 L272.8,368.3 L294.2,367.4 L315.6,366.5 L337.0,365.6 L358.4,364.7 L379.8,363.8 L401.2,362.9 L422.6,362.1 L444.0,361.2 L465.4,360.3 L486.8,359.4 L508.2,358.5 L529.6,357.6 L551.0,356.7 L572.4,355.9 L593.8,355.0 L615.2,354.1 L636.6,353.2 L658.0,352.3 L679.4,351.5 L700.8,350.6 L722.2,349.7 L743.6,348.8 L765.0,347.9 L786.4,347.1 L807.8,346.2 L829.2,345.3 L850.6,344.4 L872.0,343.5 L893.4,342.7 L914.8,341.8 L936.2,340.9 L957.5,340.0" stroke="#a0978f"/>
<path d="M102.5,376.0 L123.0,374.8 L144.4,373.6 L165.8,372.5 L187.2,371.4 L208.6,370.3 L230.0,369.2 L251.4,368.1 L272.8,367.1 L294.2,366.1 L315.6,365.0 L337.0,364.0 L358.4,363.0 L379.8,362.0 L401.2,361.0 L422.6,360.0 L444.0,359.0 L465.4,358.1 L486.8,357.1 L508.2,356.1 L529.6,355.2 L551.0,354.2 L572.4,353.3 L593.8,352.3 L615.2,351.4 L636.6,350.5 L658.0,349.5 L679.4,348.6 L700.8,347.7 L722.2,346.8 L743.6,345.9 L765.0,345.0 L786.4,344.0 L807.8,343.1 L829.2,342.2 L850.6,341.4 L872.0,340.5 L893.4,339.6 L914.8,338.7 L936.2,337.8 L957.5,336.9" stroke="#8f8680"/>
<path d="M102.5,378.1 L123.0,376.8 L144.4,375.6 L165.8,374.4 L187.2,373.3 L208.6,372.2 L230.0,371.1 L251.4,370.1 L272.8,369.1 L294.2,368.1 L315.6,367.2 L337.0,366.2 L358.4,365.3 L379.8,364.4 L401.2,363.6 L422.6,362.7 L444.0,361.9 L465.4,361.0 L486.8,360.2 L508.2,359.4 L529.6,358.6 L551.0,357.8 L572.4,357.1 L593.8,356.3 L615.2,355.5 L636.6,354.8 L658.0,354.1 L679.4,353.3 L700.8,352.6 L722.2,351.9 L743.6,351.2 L765.0,350.5 L786.4,349.8 L807.8,349.1 L829.2,348.4 L850.6,347.7 L872.0,347.1 L893.4,346.4 L914.8,345.7 L936.2,345.1 L957.5,344.4" stroke="#aaa19a"/>
<path d="M102.5,378.1 L123.0,376.7 L144.4,375.3 L165.8,374.0 L187.2,372.8 L208.6,371.7 L230.0,370.6 L251.4,369.6 L272.8,368.6 L294.2,367.6 L315.6,366.7 L337.0,365.7 L358.4,364.9 L379.8,364.0 L401.2,363.2 L422.6,362.4 L444.0,361.6 L465.4,360.8 L486.8,360.0 L508.2,359.3 L529.6,358.5 L551.0,357.8 L572.4,357.1 L593.8,356.4 L615.2,355.7 L636.6,355.1 L658.0,354.4 L679.4,353.8 L700.8,353.1 L722.2,352.5 L743.6,351.9 L765.0,351.2 L786.4,350.6 L807.8,350.0 L829.2,349.4 L850.6,348.9 L872.0,348.3 L893.4,347.7 L914.8,347.1 L936.2,346.6 L957.5,346.0" stroke="#a0978f"/>
<path d="M102.5,380.0 L123.0,378.5 L144.4,377.2 L165.8,375.9 L187.2,374.7 L208.6,373.5 L230.0,372.4 L251.4,371.4 L272.8,370.4 L294.2,369.4 L315.6,368.5 L337.0,367.6 L358.4,366.7 L379.8,365.8 L401.2,365.0 L422.6,364.2 L444.0,363.4 L465.4,362.6 L486.8,361.8 L508.2,361.1 L529.6,360.4 L551.0,359.6 L572.4,358.9 L593.8,358.2 L615.2,357.5 L636.6,356.9 L658.0,356.2 L679.4,355.6 L700.8,354.9 L722.2,354.3 L743.6,353.6 L765.0,353.0 L786.4,352.4 L807.8,351.8 L829.2,351.2 L850.6,350.6 L872.0,350.0 L893.4,349.5 L914.8,348.9 L936.2,348.3 L957.5,347.8" stroke="#aaa19a"/>
<path d="M102.5,381.0 L123.0,380.3 L144.4,379.7 L165.8,379.0 L187.2,378.4 L208.6,377.7 L230.0,377.1 L251.4,376.4 L272.8,375.8 L294.2,375.1 L315.6,374.5 L337.0,373.8 L358.4,373.2 L379.8,372.5 L401.2,371.9 L422.6,371.2 L444.0,370.6 L465.4,369.9 L486.8,369.3 L508.2,368.6 L529.6,368.0 L551.0,367.3 L572.4,366.7 L593.8,366.0 L615.2,365.4 L636.6,364.7 L658.0,364.1 L679.4,363.4 L700.8,362.8 L722.2,362.1 L743.6,361.5 L765.0,360.8 L786.4,360.2 L807.8,359.5 L829.2,358.9 L850.6,358.2 L872.0,357.6 L893.4,356.9 L914.8,356.3 L936.2,355.6 L957.5,355.0" stroke="#aaa19a"/>
<path d="M102.5,381.7 L123.0,380.8 L144.4,380.1 L165.8,379.3 L187.2,378.6 L208.6,377.9 L230.0,377.3 L251.4,376.6 L272.8,376.0 L294.2,375.4 L315.6,374.9 L337.0,374.3 L358.4,373.7 L379.8,373.2 L401.2,372.7 L422.6,372.2 L444.0,371.6 L465.4,371.1 L486.8,370.6 L508.2,370.2 L529.6,369.7 L551.0,369.2 L572.4,368.7 L593.8,368.3 L615.2,367.8 L636.6,367.4 L658.0,366.9 L679.4,366.5 L700.8,366.1 L722.2,365.7 L743.6,365.2 L765.0,364.8 L786.4,364.4 L807.8,364.0 L829.2,363.6 L850.6,363.2 L872.0,362.8 L893.4,362.4 L914.8,362.0 L936.2,361.6 L957.5,361.2" stroke="#a0978f"/>
<path d="M102.5,383.2 L123.0,382.0 L144.4,380.8 L165.8,379.6 L187.2,378.6 L208.6,377.5 L230.0,376.5 L251.4,375.6 L272.8,374.6 L294.2,373.7 L315.6,372.8 L337.0,372.0 L358.4,371.1 L379.8,370.3 L401.2,369.5 L422.6,368.7 L444.0,367.9 L465.4,367.1 L486.8,366.4 L508.2,365.6 L529.6,364.9 L551.0,364.2 L572.4,363.4 L593.8,362.7 L615.2,362.0 L636.6,361.3 L658.0,360.7 L679.4,360.0 L700.8,359.3 L722.2,358.7 L743.6,358.0 L765.0,357.4 L786.4,356.7 L807.8,356.1 L829.2,355.5 L850.6,354.9 L872.0,354.2 L893.4,353.6 L914.8,353.0 L936.2,352.4 L957.5,351.8" stroke="#8f8680"/>
<path d="M102.5,384.9 L123.0,384.0 L144.4,383.2 L165.8,382.3 L187.2,381.5 L208.6,380.7 L230.0,379.9 L251.4,379.1 L272.8,378.4 L294.2,377.6 L315.6,376.8 L337.0,376.1 L358.4,375.4 L379.8,374.6 L401.2,373.9 L422.6,373.2 L444.0,372.5 L465.4,371.7 L486.8,371.0 L508.2,370.3 L529.6,369.7 L551.0,369.0 L572.4,368.3 L593.8,367.6 L615.2,366.9 L636.6,366.2 L658.0,365.6 L679.4,364.9 L700.8,364.2 L722.2,363.6 L743.6,362.9 L765.0,362.3 L786.4,361.6 L807.8,360.9 L829.2,360.3 L850.6,359.7 L872.0,359.0 L893.4,358.4 L914.8,357.7 L936.2,357.1 L957.5,356.5" stroke="#8f8680"/>
<path d="M102.5,386.2 L123.0,384.7 L144.4,383.3 L165.8,381.9 L187.2,380.7 L208.6,379.4 L230.0,378.3 L251.4,377.1 L272.8,376.0 L294.2,375.0 L315.6,373.9 L337.0,372.9 L358.4,371.9 L379.8,370.9 L401.2,370.0 L422.6,369.0 L444.0,368.1 L465.4,367.2 L486.8,366.3 L508.2,365.5 L529.6,364.6 L551.0,363.8 L572.4,362.9 L593.8,362.1 L615.2,361.3 L636.6,360.5 L658.0,359.7 L679.4,358.9 L700.8,358.1 L722.2,357.4 L743.6,356.6 L765.0,355.9 L786.4,355.1 L807.8,354.4 L829.2,353.6 L850.6,352.9 L872.0,352.2 L893.4,351.5 L914.8,350.8 L936.2,350.1 L957.5,349.4" stroke="#aaa19a"/>
<path d="M102.5,386.5 L123.0,385.6 L144.4,384.9 L165.8,384.1 L187.2,383.4 L208.6,382.7 L230.0,382.0 L251.4,381.4 L272.8,380.7 L294.2,380.1 L315.6,379.5 L337.0,378.9 L358.4,378.3 L379.8,377.7 L401.2,377.2 L422.6,376.6 L444.0,376.1 L465.4,375.5 L486.8,375.0 L508.2,374.5 L529.6,374.0 L551.0,373.4 L572.4,372.9 L593.8,372.4 L615.2,371.9 L636.6,371.5 L658.0,371.0 L679.4,370.5 L700.8,370.0 L722.2,369.5 L743.6,369.1 L765.0,368.6 L786.4,368.2 L807.8,367.7 L829.2,367.3 L850.6,366.8 L872.0,366.4 L893.4,365.9 L914.8,365.5 L936.2,365.1 L957.5,364.6" stroke="#8f8680"/>
<path d="M102.5,388.1 L123.0,387.5 L144.4,387.0 L165.8,386.5 L187.2,386.0 L208.6,385.5 L230.0,385.0 L251.4,384.6 L272.8,384.1 L294.2,383.7 L315.6,383.3 L337.0,382.9 L358.4,382.5 L379.8,382.1 L401.2,381.7 L422.6,381.3 L444.0,381.0 L465.4,380.6 L486.8,380.3 L508.2,379.9 L529.6,379.6 L551.0,379.2 L572.4,378.9 L593.8,378.5 L615.2,378.2 L636.6,377.9 L658.0,377.6 L679.4,377.2 L700.8,376.9 L722.2,376.6 L743.6,376.3 L765.0,376.0 L786.4,375.7 L807.8,375.4 L829.2,375.1 L850.6,374.8 L872.0,374.5 L893.4,374.2 L914.8,373.9 L936.2,373.6 L957.5,373.4" stroke="#857c76"/>
<path d="M102.5,389.7 L123.0,388.9 L144.4,388.2 L165.8,387.4 L187.2,386.7 L208.6,386.1 L230.0,385.4 L251.4,384.8 L272.8,384.1 L294.2,383.5 L315.6,382.9 L337.0,382.3 L358.4,381.7 L379.8,381.2 L401.2,380.6 L422.6,380.0 L444.0,379.5 L465.4,378.9 L486.8,378.4 L508.2,377.9 L529.6,377.3 L551.0,376.8 L572.4,376.3 L593.8,375.8 L615.2,375.3 L636.6,374.8 L658.0,374.3 L679.4,373.8 L700.8,373.3 L722.2,372.9 L743.6,372.4 L765.0,371.9 L786.4,371.4 L807.8,371.0 L829.2,370.5 L850.6,370.0 L872.0,369.6 L893.4,369.1 L914.8,368.7 L936.2,368.2 L957.5,367.8" stroke="#8f8680"/>
<path d="M102.5,390.9 L123.0,389.1 L144.4,387.4 L165.8,385.8 L187.2,384.4 L208.6,383.0 L230.0,381.7 L251.4,380.4 L272.8,379.2 L294.2,378.1 L315.6,377.0 L337.0,375.9 L358.4,374.8 L379.8,373.8 L401.2,372.8 L422.6,371.9 L444.0,370.9 L465.4,370.0 L486.8,369.1 L508.2,368.2 L529.6,367.3 L551.0,366.5 L572.4,365.7 L593.8,364.8 L615.2,364.0 L636.6,363.3 L658.0,362.5 L679.4,361.7 L700.8,361.0 L722.2,360.2 L743.6,359.5 L765.0,358.8 L786.4,358.1 L807.8,357.4 L829.2,356.7 L850.6,356.0 L872.0,355.3 L893.4,354.7 L914.8,354.0 L936.2,353.3 L957.5,352.7" stroke="#a0978f"/>
<path d="M102.5,391.6 L123.0,390.9 L144.4,390.3 L165.8,389.6 L187.2,388.9 L208.6,388.3 L230.0,387.6 L251.4,387.0 L272.8,386.3 L294.2,385.6 L315.6,385.0 L337.0,384.3 L358.4,383.7 L379.8,383.0 L401.2,382.3 L422.6,381.7 L444.0,381.0 L465.4,380.4 L486.8,379.7 L508.2,379.1 L529.6,378.4 L551.0,377.8 L572.4,377.1 L593.8,376.5 L615.2,375.8 L636.6,375.2 L658.0,374.5 L679.4,373.9 L700.8,373.2 L722.2,372.6 L743.6,371.9 L765.0,371.3 L786.4,370.6 L807.8,370.0 L829.2,369.3 L850.6,368.7 L872.0,368.0 L893.4,367.4 L914.8,366.7 L936.2,366.1 L957.5,365.4" stroke="#8f8680"/>
<path d="M102.5,393.3 L123.0,391.8 L144.4,390.4 L165.8,389.1 L187.2,387.9 L208.6,386.8 L230.0,385.7 L251.4,384.7 L272.8,383.7 L294.2,382.7 L315.6,381.8 L337.0,381.0 L358.4,380.1 L379.8,379.3 L401.2,378.5 L422.6,377.7 L444.0,376.9 L465.4,376.2 L486.8,375.5 L508.2,374.7 L529.6,374.0 L551.0,373.4 L572.4,372.7 L593.8,372.0 L615.2,371.4 L636.6,370.8 L658.0,370.1 L679.4,369.5 L700.8,368.9 L722.2,368.3 L743.6,367.7 L765.0,367.2 L786.4,366.6 L807.8,366.0 L829.2,365.5 L850.6,364.9 L872.0,364.4 L893.4,363.9 L914.8,363.3 L936.2,362.8 L957.5,362.3" stroke="#857c76"/>
<path d="M102.5,393.8 L123.0,392.1 L144.4,390.5 L165.8,389.0 L187.2,387.6 L208.6,386.2 L230.0,385.0 L251.4,383.8 L272.8,382.7 L294.2,381.6 L315.6,380.5 L337.0,379.5 L358.4,378.6 L379.8,377.6 L401.2,376.7 L422.6,375.8 L444.0,374.9 L465.4,374.1 L486.8,373.3 L508.2,372.4 L529.6,371.7 L551.0,370.9 L572.4,370.1 L593.8,369.4 L615.2,368.6 L636.6,367.9 L658.0,367.2 L679.4,366.5 L700.8,365.9 L722.2,365.2 L743.6,364.5 L765.0,363.9 L786.4,363.2 L807.8,362.6 L829.2,362.0 L850.6,361.4 L872.0,360.8 L893.4,360.2 L914.8,359.6 L936.2,359.0 L957.5,358.4" stroke="#a0978f"/>
<path d="M102.5,395.6 L123.0,394.7 L144.4,393.8 L165.8,393.0 L187.2,392.3 L208.6,391.5 L230.0,390.9 L251.4,390.2 L272.8,389.5 L294.2,388.9 L315.6,388.3 L337.0,387.7 L358.4,387.2 L379.8,386.6 L401.2,386.0 L422.6,385.5 L444.0,385.0 L465.4,384.5 L486.8,384.0 L508.2,383.5 L529.6,383.0 L551.0,382.5 L572.4,382.0 L593.8,381.5 L615.2,381.1 L636.6,380.6 L658.0,380.2 L679.4,379.7 L700.8,379.3 L722.2,378.9 L743.6,378.5 L765.0,378.0 L786.4,377.6 L807.8,377.2 L829.2,376.8 L850.6,376.4 L872.0,376.0 L893.4,375.6 L914.8,375.2 L936.2,374.8 L957.5,374.4" stroke="#a0978f"/>
<path d="M102.5,396.3 L123.0,395.6 L144.4,394.8 L165.8,394.1 L187.2,393.4 L208.6,392.7 L230.0,392.0 L251.4,391.3 L272.8,390.6 L294.2,389.9 L315.6,389.2 L337.0,388.5 L358.4,387.9 L379.8,387.2 L401.2,386.5 L422.6,385.9 L444.0,385.2 L465.4,384.5 L486.8,383.9 L508.2,383.2 L529.6,382.6 L551.0,381.9 L572.4,381.3 L593.8,380.7 L615.2,380.0 L636.6,379.4 L658.0,378.8 L679.4,378.1 L700.8,377.5 L722.2,376.9 L743.6,376.2 L765.0,375.6 L786.4,375.0 L807.8,374.4 L829.2,373.7 L850.6,373.1 L872.0,372.5 L893.4,371.9 L914.8,371.3 L936.2,370.7 L957.5,370.1" stroke="#857c76"/>
<path d="M102.5,397.3 L123.0,396.2 L144.4,395.3 L165.8,394.3 L187.2,393.4 L208.6,392.6 L230.0,391.7 L251.4,390.9 L272.8,390.1 L294.2,389.3 L315.6,388.6 L337.0,387.8 L358.4,387.1 L379.8,386.4 L401.2,385.7 L422.6,385.0 L444.0,384.4 L465.4,383.7 L486.8,383.1 L508.2,382.4 L529.6,381.8 L551.0,381.2 L572.4,380.5 L593.8,379.9 L615.2,379.3 L636.6,378.7 L658.0,378.1 L679.4,377.6 L700.8,377.0 L722.2,376.4 L743.6,375.8 L765.0,375.3 L786.4,374.7 L807.8,374.2 L829.2,373.6 L850.6,373.1 L872.0,372.5 L893.4,372.0 L914.8,371.5 L936.2,371.0 L957.5,370.4" stroke="#aaa19a"/>
<path d="M102.5,399.0 L123.0,398.3 L144.4,397.6 L165.8,396.9 L187.2,396.2 L208.6,395.6 L230.0,394.9 L251.4,394.3 L272.8,393.7 L294.2,393.1 L315.6,392.4 L337.0,391.8 L358.4,391.2 L379.8,390.6 L401.2,390.0 L422.6,389.5 L444.0,388.9 L465.4,388.3 L486.8,387.7 L508.2,387.2 L529.6,386.6 L551.0,386.1 L572.4,385.5 L593.8,384.9 L615.2,384.4 L636.6,383.9 L658.0,383.3 L679.4,382.8 L700.8,382.2 L722.2,381.7 L743.6,381.2 L765.0,380.6 L786.4,380.1 L807.8,379.6 L829.2,379.1 L850.6,378.5 L872.0,378.0 L893.4,377.5 L914.8,377.0 L936.2,376.5 L957.5,376.0" stroke="#8f8680"/>
<path d="M102.5,399.5 L123.0,398.6 L144.4,397.7 L165.8,397.0 L187.2,396.2 L208.6,395.5 L230.0,394.8 L251.4,394.1 L272.8,393.5 L294.2,392.9 L315.6,392.3 L337.0,391.7 L358.4,391.1 L379.8,390.5 L401.2,390.0 L422.6,389.5 L444.0,388.9 L465.4,388.4 L486.8,387.9 L508.2,387.4 L529.6,386.9 L551.0,386.4 L572.4,386.0 L593.8,385.5 L615.2,385.0 L636.6,384.6 L658.0,384.1 L679.4,383.7 L700.8,383.2 L722.2,382.8 L743.6,382.4 L765.0,382.0 L786.4,381.5 L807.8,381.1 L829.2,380.7 L850.6,380.3 L872.0,379.9 L893.4,379.5 L914.8,379.1 L936.2,378.7 L957.5,378.3" stroke="#a0978f"/>
<path d="M102.5,401.3 L123.0,400.6 L144.4,399.9 L165.8,399.3 L187.2,398.7 L208.6,398.2 L230.0,397.6 L251.4,397.1 L272.8,396.6 L294.2,396.0 L315.6,395.6 L337.0,395.1 L358.4,394.6 L379.8,394.1 L401.2,393.7 L422.6,393.2 L444.0,392.8 L465.4,392.3 L486.8,391.9 L508.2,391.5 L529.6,391.1 L551.0,390.6 L572.4,390.2 L593.8,389.8 L615.2,389.4 L636.6,389.0 L658.0,388.6 L679.4,388.3 L700.8,387.9 L722.2,387.5 L743.6,387.1 L765.0,386.7 L786.4,386.4 L807.8,386.0 L829.2,385.6 L850.6,385.3 L872.0,384.9 L893.4,384.6 L914.8,384.2 L936.2,383.9 L957.5,383.5" stroke="#8f8680"/>
<path d="M102.5,402.2 L123.0,401.5 L144.4,400.9 L165.8,400.3 L187.2,399.8 L208.6,399.2 L230.0,398.7 L251.4,398.2 L272.8,397.8 L294.2,397.3 L315.6,396.9 L337.0,396.4 L358.4,396.0 L379.8,395.6 L401.2,395.2 L422.6,394.8 L444.0,394.4 L465.4,394.0 L486.8,393.6 L508.2,393.3 L529.6,392.9 L551.0,392.5 L572.4,392.2 L593.8,391.9 L615.2,391.5 L636.6,391.2 L658.0,390.8 L679.4,390.5 L700.8,390.2 L722.2,389.9 L743.6,389.6 L765.0,389.3 L786.4,388.9 L807.8,388.6 L829.2,388.3 L850.6,388.0 L872.0,387.7 L893.4,387.5 L914.8,387.2 L936.2,386.9 L957.5,386.6" stroke="#8f8680"/>
</g>
<path d="M102.5,342.5 L123.0,338.7 L144.4,335.9 L165.8,333.4 L187.2,331.1 L208.6,328.9 L230.0,326.7 L251.4,324.7 L272.8,322.7 L294.2,320.7 L315.6,318.8 L337.0,316.9 L358.4,315.1 L379.8,313.3 L401.2,311.5 L422.6,309.7 L444.0,308.0 L465.4,306.3 L486.8,304.6 L508.2,302.9 L529.6,301.2 L551.0,299.6 L572.4,298.0 L593.8,296.4 L615.2,294.8 L636.6,293.2 L658.0,291.6 L679.4,290.0 L700.8,288.5 L722.2,287.0 L743.6,285.4 L765.0,283.9 L786.4,282.4 L807.8,280.9 L829.2,279.4 L850.6,277.9 L872.0,276.5 L893.4,275.0 L914.8,273.5 L936.2,272.1 L957.5,270.7" fill="none" stroke="#2a7a3a" stroke-width="5" />
<line x1="102.5" y1="75.6" x2="957.5" y2="75.6" stroke="#222" stroke-width="2" />
<line x1="957.5" y1="75.6" x2="957.5" y2="465.6" stroke="#999" stroke-width="1.5" />
<line x1="102.5" y1="465.6" x2="957.5" y2="465.6" stroke="#999" stroke-width="2" />
<line x1="102.5" y1="74.6" x2="102.5" y2="466.6" stroke="#111" stroke-width="2.2" />
<line x1="92.0" y1="465.6" x2="102.5" y2="465.6" stroke="#888" stroke-width="1.6" />
<text x="84.5" y="474.4" font-size="29" text-anchor="end" fill="#111" textLength="15.5" lengthAdjust="spacingAndGlyphs" stroke="#111" stroke-width="0.6">0</text>
<line x1="92.0" y1="363.0" x2="102.5" y2="363.0" stroke="#888" stroke-width="1.6" />
<text x="81.8" y="371.8" font-size="29" text-anchor="end" fill="#111" textLength="38.5" lengthAdjust="spacingAndGlyphs" stroke="#111" stroke-width="0.6">0.1</text>
<line x1="92.0" y1="260.4" x2="102.5" y2="260.4" stroke="#888" stroke-width="1.6" />
<text x="84.5" y="269.2" font-size="29" text-anchor="end" fill="#111" textLength="38.5" lengthAdjust="spacingAndGlyphs" stroke="#111" stroke-width="0.6">0.2</text>
<line x1="92.0" y1="157.8" x2="102.5" y2="157.8" stroke="#888" stroke-width="1.6" />
<text x="84.5" y="166.6" font-size="29" text-anchor="end" fill="#111" textLength="38.5" lengthAdjust="spacingAndGlyphs" stroke="#111" stroke-width="0.6">0.3</text>
<line x1="96.0" y1="414.3" x2="102.5" y2="414.3" stroke="#888" stroke-width="1.6" />
<line x1="96.0" y1="311.7" x2="102.5" y2="311.7" stroke="#888" stroke-width="1.6" />
<line x1="96.0" y1="209.1" x2="102.5" y2="209.1" stroke="#888" stroke-width="1.6" />
<line x1="96.0" y1="106.5" x2="102.5" y2="106.5" stroke="#888" stroke-width="1.6" />
<line x1="255.7" y1="465.6" x2="255.7" y2="473.6" stroke="#333" stroke-width="1.6" />
<text x="255.7" y="503.1" font-size="30" text-anchor="middle" fill="#111" textLength="16.3" lengthAdjust="spacingAndGlyphs" stroke="#111" stroke-width="0.6">2</text>
<line x1="426.9" y1="465.6" x2="426.9" y2="473.6" stroke="#333" stroke-width="1.6" />
<text x="426.9" y="503.1" font-size="30" text-anchor="middle" fill="#111" textLength="16.3" lengthAdjust="spacingAndGlyphs" stroke="#111" stroke-width="0.6">4</text>
<line x1="598.1" y1="465.6" x2="598.1" y2="473.6" stroke="#333" stroke-width="1.6" />
<text x="598.1" y="503.1" font-size="30" text-anchor="middle" fill="#111" textLength="16.3" lengthAdjust="spacingAndGlyphs" stroke="#111" stroke-width="0.6">6</text>
<line x1="769.3" y1="465.6" x2="769.3" y2="473.6" stroke="#333" stroke-width="1.6" />
<text x="769.3" y="503.1" font-size="30" text-anchor="middle" fill="#111" textLength="16.3" lengthAdjust="spacingAndGlyphs" stroke="#111" stroke-width="0.6">8</text>
<line x1="940.5" y1="465.6" x2="940.5" y2="473.6" stroke="#333" stroke-width="1.6" />
<text x="942.0" y="503.1" font-size="30" text-anchor="middle" fill="#111" textLength="32.5" lengthAdjust="spacingAndGlyphs" stroke="#111" stroke-width="0.6">10</text>
<text x="98.6" y="499.1" font-size="29" text-anchor="middle" fill="#111" textLength="15.5" lengthAdjust="spacingAndGlyphs" stroke="#111" stroke-width="0.6">0</text>
<line x1="170.1" y1="465.6" x2="170.1" y2="470.6" stroke="#333" stroke-width="1.5" />
<line x1="341.3" y1="465.6" x2="341.3" y2="470.6" stroke="#333" stroke-width="1.5" />
<line x1="512.5" y1="465.6" x2="512.5" y2="470.6" stroke="#333" stroke-width="1.5" />
<line x1="683.7" y1="465.6" x2="683.7" y2="470.6" stroke="#333" stroke-width="1.5" />
<line x1="854.9" y1="465.6" x2="854.9" y2="470.6" stroke="#333" stroke-width="1.5" />
<text x="460.8" y="531.3" font-size="33.5" text-anchor="start" fill="#222" textLength="119.5" lengthAdjust="spacingAndGlyphs" >Time (s)</text>
<text transform="translate(28.3,268.2) rotate(-90)" font-size="34.5" text-anchor="middle" fill="#222" textLength="171" lengthAdjust="spacingAndGlyphs">iMSD (μm²)</text>
<rect x="401" y="47.7" width="73.4" height="23.6" fill="#235e35" stroke="#111" stroke-width="2"/>
<text x="488.6" y="68.3" font-size="31" text-anchor="start" fill="#222" textLength="177" lengthAdjust="spacingAndGlyphs" >Proinsulin-EGFP</text>
<ellipse cx="312.2" cy="68" rx="55.9" ry="62" fill="#fff" stroke="#f5a843" stroke-width="10.3"/>
<path d="M280,34 Q290,31 298,35" fill="none" stroke="#2a9a3a" stroke-width="3.6" stroke-linecap="round"/>
<g transform="translate(302.7,37.8) rotate(12)"><rect x="-8" y="-6.5" width="16" height="13" rx="2" fill="#8dc63f" stroke="#666" stroke-width="0.8"/><ellipse cx="6" cy="0" rx="2.5" ry="6.3" fill="#8dc63f" stroke="#666" stroke-width="0.8"/></g>
<path d="M333,44 Q340,41 352,42" fill="none" stroke="#2a9a3a" stroke-width="3.6" stroke-linecap="round"/>
<g transform="translate(327.5,44.4) rotate(-12)"><rect x="-8" y="-6.5" width="16" height="13" rx="2" fill="#8dc63f" stroke="#666" stroke-width="0.8"/><ellipse cx="6" cy="0" rx="2.5" ry="6.3" fill="#8dc63f" stroke="#666" stroke-width="0.8"/></g>
<path d="M272,81 Q280,72 290,69" fill="none" stroke="#2a9a3a" stroke-width="3.6" stroke-linecap="round"/>
<g transform="translate(292.4,67.5) rotate(-12)"><rect x="-8" y="-6.5" width="16" height="13" rx="2" fill="#8dc63f" stroke="#666" stroke-width="0.8"/><ellipse cx="6" cy="0" rx="2.5" ry="6.3" fill="#8dc63f" stroke="#666" stroke-width="0.8"/></g>
<path d="M333,82 Q336,75 345,77" fill="none" stroke="#2a9a3a" stroke-width="3.6" stroke-linecap="round"/>
<g transform="translate(328.9,84.1) rotate(-12)"><rect x="-8" y="-6.5" width="16" height="13" rx="2" fill="#8dc63f" stroke="#666" stroke-width="0.8"/><ellipse cx="6" cy="0" rx="2.5" ry="6.3" fill="#8dc63f" stroke="#666" stroke-width="0.8"/></g>
<path d="M308,94 Q316,99 317,112" fill="none" stroke="#2a9a3a" stroke-width="3.6" stroke-linecap="round"/>
<g transform="translate(305,90.5) rotate(72)"><rect x="-8" y="-6.5" width="16" height="13" rx="2" fill="#8dc63f" stroke="#666" stroke-width="0.8"/><ellipse cx="6" cy="0" rx="2.5" ry="6.3" fill="#8dc63f" stroke="#666" stroke-width="0.8"/></g>
<text x="11.2" y="592.7" font-size="37" text-anchor="start" fill="#111" >B</text>
<g fill="#fff" stroke="#78a842" stroke-width="2.3">
<rect x="154.8" y="787.6" width="14.6" height="9.9"/>
<rect x="169.4" y="725.7" width="14.6" height="71.8"/>
<rect x="184.0" y="735.8" width="14.6" height="61.7"/>
<rect x="198.7" y="725.7" width="14.6" height="71.8"/>
<rect x="213.3" y="642.9" width="14.6" height="154.6"/>
<rect x="227.9" y="715.8" width="14.6" height="81.7"/>
<rect x="242.5" y="632.8" width="14.6" height="164.7"/>
<rect x="257.1" y="694.9" width="14.6" height="102.6"/>
<rect x="271.8" y="735.8" width="14.6" height="61.7"/>
<rect x="286.4" y="735.8" width="14.6" height="61.7"/>
<rect x="301.0" y="705.1" width="14.6" height="92.4"/>
<rect x="315.6" y="756.7" width="14.6" height="40.8"/>
<rect x="330.2" y="787.6" width="14.6" height="9.9"/>
<rect x="344.9" y="787.6" width="14.6" height="9.9"/>
</g>
<path d="M92.7,797.5 L94.2,797.5 L95.7,797.5 L97.2,797.5 L98.7,797.5 L100.2,797.5 L101.7,797.5 L103.2,797.5 L104.7,797.5 L106.2,797.5 L107.7,797.5 L109.2,797.5 L110.7,797.5 L112.2,797.5 L113.7,797.5 L115.2,797.5 L116.7,797.5 L118.2,797.5 L119.7,797.5 L121.2,797.5 L122.7,797.5 L124.2,797.5 L125.7,797.5 L127.2,797.5 L128.7,797.5 L130.2,797.5 L131.7,797.4 L133.2,797.4 L134.7,797.4 L136.2,797.4 L137.7,797.3 L139.2,797.3 L140.7,797.2 L142.2,797.1 L143.7,796.9 L145.2,796.8 L146.7,796.6 L148.2,796.4 L149.7,796.1 L151.2,795.7 L152.7,795.3 L154.2,794.8 L155.7,794.2 L157.2,793.6 L158.7,792.8 L160.2,791.9 L161.7,790.9 L163.2,789.7 L164.7,788.4 L166.2,786.9 L167.7,785.3 L169.2,783.5 L170.7,781.5 L172.2,779.3 L173.7,776.9 L175.2,774.4 L176.7,771.6 L178.2,768.6 L179.7,765.4 L181.2,762.0 L182.7,758.5 L184.2,754.7 L185.7,750.8 L187.2,746.6 L188.7,742.4 L190.2,738.0 L191.7,733.5 L193.2,728.8 L194.7,724.1 L196.2,719.3 L197.7,714.5 L199.2,709.6 L200.7,704.7 L202.2,699.9 L203.7,695.0 L205.2,690.3 L206.7,685.6 L208.2,681.0 L209.7,676.5 L211.2,672.2 L212.7,668.1 L214.2,664.1 L215.7,660.3 L217.2,656.8 L218.7,653.4 L220.2,650.3 L221.7,647.5 L223.2,644.9 L224.7,642.6 L226.2,640.6 L227.7,638.8 L229.2,637.3 L230.7,636.1 L232.2,635.2 L233.7,634.6 L235.2,634.2 L236.7,634.2 L238.2,634.3 L239.7,634.8 L241.2,635.5 L242.7,636.4 L244.2,637.6 L245.7,639.0 L247.2,640.6 L248.7,642.4 L250.2,644.4 L251.7,646.6 L253.2,649.0 L254.7,651.4 L256.2,654.1 L257.7,656.8 L259.2,659.7 L260.7,662.7 L262.2,665.7 L263.7,668.9 L265.2,672.1 L266.7,675.3 L268.2,678.6 L269.7,682.0 L271.2,685.3 L272.7,688.7 L274.2,692.0 L275.7,695.4 L277.2,698.7 L278.7,702.0 L280.2,705.3 L281.7,708.6 L283.2,711.8 L284.7,715.0 L286.2,718.1 L287.7,721.2 L289.2,724.2 L290.7,727.1 L292.2,730.0 L293.7,732.8 L295.2,735.5 L296.7,738.2 L298.2,740.8 L299.7,743.3 L301.2,745.7 L302.7,748.1 L304.2,750.4 L305.7,752.6 L307.2,754.7 L308.7,756.8 L310.2,758.8 L311.7,760.7 L313.2,762.5 L314.7,764.3 L316.2,766.0 L317.7,767.6 L319.2,769.1 L320.7,770.6 L322.2,772.0 L323.7,773.4 L325.2,774.7 L326.7,775.9 L328.2,777.1 L329.7,778.2 L331.2,779.3 L332.7,780.3 L334.2,781.3 L335.7,782.2 L337.2,783.1 L338.7,783.9 L340.2,784.7 L341.7,785.5 L343.2,786.2 L344.7,786.9 L346.2,787.5 L347.7,788.1 L349.2,788.7 L350.7,789.2 L352.2,789.7 L353.7,790.2 L355.2,790.6 L356.7,791.1 L358.2,791.5 L359.7,791.8 L361.2,792.2 L362.7,792.5 L364.2,792.9 L365.7,793.1 L367.2,793.4 L368.7,793.7 L370.2,793.9 L371.7,794.2 L373.2,794.4 L374.7,794.6 L376.2,794.8 L377.7,795.0 L379.2,795.1 L380.7,795.3 L382.2,795.4 L383.7,795.6 L385.2,795.7 L386.7,795.8 L388.2,795.9 L389.7,796.0 L391.2,796.1 L392.7,796.2 L394.2,796.3 L395.7,796.4 L397.2,796.5 L398.7,796.5 L400.2,796.6 L401.7,796.7 L403.2,796.7 L404.7,796.8" fill="none" stroke="#2a7a35" stroke-width="3.6" stroke-linejoin="round"/>
<rect x="92.1" y="617.9" width="313.9" height="179.70000000000005" fill="none" stroke="#3a3330" stroke-width="1.6"/>
<line x1="87.6" y1="797.6" x2="92.1" y2="797.6" stroke="#555" stroke-width="1.5" />
<text x="87.8" y="807.6" font-size="32.8" text-anchor="end" fill="#111" textLength="39.5" lengthAdjust="spacingAndGlyphs" >0.0</text>
<line x1="87.6" y1="715.8" x2="92.1" y2="715.8" stroke="#555" stroke-width="1.5" />
<text x="87.8" y="725.8" font-size="32.8" text-anchor="end" fill="#111" textLength="39.5" lengthAdjust="spacingAndGlyphs" >0.5</text>
<line x1="87.6" y1="634.0" x2="92.1" y2="634.0" stroke="#555" stroke-width="1.5" />
<text x="87.8" y="644.0" font-size="32.8" text-anchor="end" fill="#111" textLength="39.5" lengthAdjust="spacingAndGlyphs" >1.0</text>
<line x1="89.1" y1="756.7" x2="92.1" y2="756.7" stroke="#666" stroke-width="1.2" />
<line x1="89.1" y1="674.9" x2="92.1" y2="674.9" stroke="#666" stroke-width="1.2" />
<line x1="92.1" y1="797.5" x2="92.1" y2="803.5" stroke="#333" stroke-width="1.5" />
<text x="96.7" y="835.5" font-size="32.5" text-anchor="middle" fill="#111" textLength="38.8" lengthAdjust="spacingAndGlyphs" >0.2</text>
<line x1="248.4" y1="797.5" x2="248.4" y2="803.5" stroke="#333" stroke-width="1.5" />
<text x="254.5" y="835.5" font-size="32.5" text-anchor="middle" fill="#111" textLength="38.8" lengthAdjust="spacingAndGlyphs" >0.7</text>
<line x1="406.0" y1="797.5" x2="406.0" y2="803.5" stroke="#333" stroke-width="1.5" />
<text x="409.6" y="835.5" font-size="32.5" text-anchor="middle" fill="#111" textLength="38.8" lengthAdjust="spacingAndGlyphs" >1.2</text>
<line x1="264.0" y1="797.5" x2="264.0" y2="801.5" stroke="#333" stroke-width="1.2" />
<g fill="#fff" stroke="#78a842" stroke-width="2.3">
<rect x="154.8" y="914.6" width="10.5" height="105.9"/>
<rect x="165.3" y="855.7" width="10.5" height="164.8"/>
<rect x="175.7" y="886.0" width="10.5" height="134.5"/>
<rect x="186.2" y="934.0" width="10.5" height="86.5"/>
<rect x="196.6" y="875.6" width="10.5" height="144.9"/>
<rect x="207.1" y="895.1" width="10.5" height="125.4"/>
<rect x="217.6" y="992.6" width="10.5" height="27.9"/>
<rect x="228.0" y="973.3" width="10.5" height="47.2"/>
<rect x="238.5" y="982.4" width="10.5" height="38.1"/>
<rect x="248.9" y="1012.1" width="10.5" height="8.4"/>
<rect x="259.4" y="1012.1" width="10.5" height="8.4"/>
<rect x="269.9" y="1001.9" width="10.5" height="18.6"/>
<rect x="280.3" y="1012.1" width="10.5" height="8.4"/>
<rect x="290.8" y="1012.1" width="10.5" height="8.4"/>
</g>
<path d="M140.0,1020.5 L141.5,1020.5 L143.0,1020.5 L144.5,1020.5 L146.0,1020.5 L147.5,1020.4 L149.0,1019.9 L150.5,1018.5 L152.0,1015.6 L153.5,1010.5 L155.0,1003.0 L156.5,993.2 L158.0,981.4 L159.5,968.0 L161.0,953.8 L162.5,939.3 L164.0,925.0 L165.5,911.6 L167.0,899.3 L168.5,888.4 L170.0,879.2 L171.5,871.6 L173.0,865.6 L174.5,861.4 L176.0,858.6 L177.5,857.3 L179.0,857.3 L180.5,858.4 L182.0,860.5 L183.5,863.4 L185.0,867.1 L186.5,871.3 L188.0,875.9 L189.5,880.9 L191.0,886.2 L192.5,891.7 L194.0,897.2 L195.5,902.8 L197.0,908.3 L198.5,913.8 L200.0,919.3 L201.5,924.5 L203.0,929.7 L204.5,934.7 L206.0,939.4 L207.5,944.1 L209.0,948.5 L210.5,952.7 L212.0,956.7 L213.5,960.5 L215.0,964.2 L216.5,967.6 L218.0,970.9 L219.5,973.9 L221.0,976.8 L222.5,979.6 L224.0,982.2 L225.5,984.6 L227.0,986.9 L228.5,989.0 L230.0,991.0 L231.5,992.9 L233.0,994.7 L234.5,996.3 L236.0,997.9 L237.5,999.3 L239.0,1000.7 L240.5,1002.0 L242.0,1003.2 L243.5,1004.3 L245.0,1005.3 L246.5,1006.3 L248.0,1007.2 L249.5,1008.1 L251.0,1008.9 L252.5,1009.6 L254.0,1010.3 L255.5,1011.0 L257.0,1011.6 L258.5,1012.2 L260.0,1012.7 L261.5,1013.2 L263.0,1013.6 L264.5,1014.1 L266.0,1014.5 L267.5,1014.9 L269.0,1015.2 L270.5,1015.6 L272.0,1015.9 L273.5,1016.2 L275.0,1016.4 L276.5,1016.7 L278.0,1016.9 L279.5,1017.1 L281.0,1017.3 L282.5,1017.5 L284.0,1017.7 L285.5,1017.9 L287.0,1018.0 L288.5,1018.2 L290.0,1018.3 L291.5,1018.5 L293.0,1018.6 L294.5,1018.7 L296.0,1018.8 L297.5,1018.9 L299.0,1019.0 L300.5,1019.1 L302.0,1019.2 L303.5,1019.3 L305.0,1019.3 L306.5,1019.4 L308.0,1019.5 L309.5,1019.5 L311.0,1019.6 L312.5,1019.6 L314.0,1019.7 L315.5,1019.7 L317.0,1019.8 L318.5,1019.8 L320.0,1019.9 L321.5,1019.9 L323.0,1019.9 L324.5,1020.0 L326.0,1020.0 L327.5,1020.0 L329.0,1020.0 L330.5,1020.1 L332.0,1020.1 L333.5,1020.1 L335.0,1020.1 L336.5,1020.2 L338.0,1020.2 L339.5,1020.2 L341.0,1020.2 L342.5,1020.2 L344.0,1020.2 L345.5,1020.3 L347.0,1020.3 L348.5,1020.3 L350.0,1020.3 L351.5,1020.3 L353.0,1020.3 L354.5,1020.3 L356.0,1020.3 L357.5,1020.3 L359.0,1020.4 L360.5,1020.4 L362.0,1020.4 L363.5,1020.4 L365.0,1020.4 L366.5,1020.4 L368.0,1020.4 L369.5,1020.4 L371.0,1020.4 L372.5,1020.4 L374.0,1020.4 L375.5,1020.4 L377.0,1020.4 L378.5,1020.4 L380.0,1020.4 L381.5,1020.4 L383.0,1020.4 L384.5,1020.4 L386.0,1020.4 L387.5,1020.4 L389.0,1020.4 L390.5,1020.5 L392.0,1020.5 L393.5,1020.5 L395.0,1020.5 L396.5,1020.5 L398.0,1020.5 L399.5,1020.5 L401.0,1020.5 L402.5,1020.5 L404.0,1020.5" fill="none" stroke="#2a7a35" stroke-width="3.6" stroke-linejoin="round"/>
<rect x="92.1" y="840.5" width="313.9" height="181.0" fill="none" stroke="#3a3330" stroke-width="1.6"/>
<line x1="87.6" y1="1021.5" x2="92.1" y2="1021.5" stroke="#555" stroke-width="1.5" />
<text x="87.8" y="1031.5" font-size="32.8" text-anchor="end" fill="#111" textLength="39.5" lengthAdjust="spacingAndGlyphs" >0.0</text>
<line x1="87.6" y1="938.8" x2="92.1" y2="938.8" stroke="#555" stroke-width="1.5" />
<text x="87.8" y="948.8" font-size="32.8" text-anchor="end" fill="#111" textLength="39.5" lengthAdjust="spacingAndGlyphs" >0.5</text>
<line x1="87.6" y1="856.1" x2="92.1" y2="856.1" stroke="#555" stroke-width="1.5" />
<text x="87.8" y="866.1" font-size="32.8" text-anchor="end" fill="#111" textLength="39.5" lengthAdjust="spacingAndGlyphs" >1.0</text>
<line x1="89.1" y1="980.1" x2="92.1" y2="980.1" stroke="#666" stroke-width="1.2" />
<line x1="89.1" y1="897.5" x2="92.1" y2="897.5" stroke="#666" stroke-width="1.2" />
<line x1="144.3" y1="1020.5" x2="144.3" y2="1026.5" stroke="#333" stroke-width="1.5" />
<line x1="283.6" y1="1020.5" x2="283.6" y2="1026.5" stroke="#333" stroke-width="1.5" />
<line x1="405.5" y1="1020.5" x2="405.5" y2="1026.5" stroke="#333" stroke-width="1.5" />
<line x1="316.2" y1="1020.5" x2="316.2" y2="1024.5" stroke="#333" stroke-width="1.2" />
<text x="148.0" y="1059.0" font-size="32.5" text-anchor="middle" fill="#111" textLength="15.5" lengthAdjust="spacingAndGlyphs" >0</text>
<text x="288.0" y="1059.0" font-size="32.5" text-anchor="middle" fill="#111" textLength="66" lengthAdjust="spacingAndGlyphs" >0.008</text>
<text x="408.0" y="1059.0" font-size="32.5" text-anchor="middle" fill="#111" textLength="66" lengthAdjust="spacingAndGlyphs" >0.015</text>
<g fill="#fff" stroke="#78a842" stroke-width="2.3">
<rect x="140.7" y="1236.4" width="14.0" height="7.9"/>
<rect x="154.7" y="1190.0" width="14.0" height="54.3"/>
<rect x="168.7" y="1180.4" width="14.0" height="63.9"/>
<rect x="182.7" y="1079.5" width="14.0" height="164.8"/>
<rect x="196.7" y="1116.9" width="14.0" height="127.4"/>
<rect x="210.7" y="1144.5" width="14.0" height="99.8"/>
<rect x="224.7" y="1144.5" width="14.0" height="99.8"/>
<rect x="238.7" y="1135.2" width="14.0" height="109.1"/>
<rect x="252.7" y="1208.7" width="14.0" height="35.6"/>
<rect x="266.7" y="1198.8" width="14.0" height="45.5"/>
<rect x="280.7" y="1226.5" width="14.0" height="17.8"/>
<rect x="294.7" y="1208.7" width="14.0" height="35.6"/>
<rect x="308.7" y="1226.5" width="14.0" height="17.8"/>
<rect x="322.7" y="1236.0" width="14.0" height="8.2"/>
<rect x="336.7" y="1236.0" width="14.0" height="8.2"/>
</g>
<path d="M92.7,1244.3 L94.2,1244.3 L95.7,1244.3 L97.2,1244.3 L98.7,1244.3 L100.2,1244.3 L101.7,1244.3 L103.2,1244.3 L104.7,1244.3 L106.2,1244.2 L107.7,1244.2 L109.2,1244.2 L110.7,1244.1 L112.2,1244.1 L113.7,1244.0 L115.2,1243.9 L116.7,1243.8 L118.2,1243.7 L119.7,1243.5 L121.2,1243.3 L122.7,1243.1 L124.2,1242.8 L125.7,1242.5 L127.2,1242.1 L128.7,1241.6 L130.2,1241.1 L131.7,1240.4 L133.2,1239.7 L134.7,1238.9 L136.2,1237.9 L137.7,1236.8 L139.2,1235.6 L140.7,1234.2 L142.2,1232.7 L143.7,1231.0 L145.2,1229.2 L146.7,1227.2 L148.2,1225.0 L149.7,1222.6 L151.2,1220.0 L152.7,1217.2 L154.2,1214.2 L155.7,1211.1 L157.2,1207.8 L158.7,1204.2 L160.2,1200.5 L161.7,1196.7 L163.2,1192.6 L164.7,1188.4 L166.2,1184.1 L167.7,1179.7 L169.2,1175.2 L170.7,1170.5 L172.2,1165.9 L173.7,1161.1 L175.2,1156.3 L176.7,1151.6 L178.2,1146.8 L179.7,1142.0 L181.2,1137.4 L182.7,1132.7 L184.2,1128.2 L185.7,1123.8 L187.2,1119.6 L188.7,1115.4 L190.2,1111.5 L191.7,1107.7 L193.2,1104.2 L194.7,1100.9 L196.2,1097.7 L197.7,1094.9 L199.2,1092.3 L200.7,1089.9 L202.2,1087.8 L203.7,1086.0 L205.2,1084.5 L206.7,1083.2 L208.2,1082.2 L209.7,1081.5 L211.2,1081.1 L212.7,1081.0 L214.2,1081.1 L215.7,1081.4 L217.2,1082.1 L218.7,1082.9 L220.2,1084.0 L221.7,1085.4 L223.2,1086.9 L224.7,1088.7 L226.2,1090.6 L227.7,1092.7 L229.2,1095.0 L230.7,1097.5 L232.2,1100.1 L233.7,1102.8 L235.2,1105.7 L236.7,1108.6 L238.2,1111.7 L239.7,1114.8 L241.2,1118.0 L242.7,1121.3 L244.2,1124.6 L245.7,1128.0 L247.2,1131.3 L248.7,1134.7 L250.2,1138.1 L251.7,1141.5 L253.2,1144.9 L254.7,1148.3 L256.2,1151.6 L257.7,1154.9 L259.2,1158.2 L260.7,1161.4 L262.2,1164.5 L263.7,1167.7 L265.2,1170.7 L266.7,1173.7 L268.2,1176.6 L269.7,1179.5 L271.2,1182.3 L272.7,1185.0 L274.2,1187.6 L275.7,1190.2 L277.2,1192.6 L278.7,1195.0 L280.2,1197.4 L281.7,1199.6 L283.2,1201.8 L284.7,1203.9 L286.2,1205.9 L287.7,1207.8 L289.2,1209.7 L290.7,1211.5 L292.2,1213.2 L293.7,1214.8 L295.2,1216.4 L296.7,1217.9 L298.2,1219.3 L299.7,1220.7 L301.2,1222.0 L302.7,1223.2 L304.2,1224.4 L305.7,1225.6 L307.2,1226.6 L308.7,1227.7 L310.2,1228.6 L311.7,1229.6 L313.2,1230.4 L314.7,1231.3 L316.2,1232.0 L317.7,1232.8 L319.2,1233.5 L320.7,1234.1 L322.2,1234.8 L323.7,1235.4 L325.2,1235.9 L326.7,1236.5 L328.2,1237.0 L329.7,1237.4 L331.2,1237.9 L332.7,1238.3 L334.2,1238.7 L335.7,1239.0 L337.2,1239.4 L338.7,1239.7 L340.2,1240.0 L341.7,1240.3 L343.2,1240.6 L344.7,1240.8 L346.2,1241.0 L347.7,1241.3 L349.2,1241.5 L350.7,1241.7 L352.2,1241.8 L353.7,1242.0 L355.2,1242.2 L356.7,1242.3 L358.2,1242.5 L359.7,1242.6 L361.2,1242.7 L362.7,1242.8 L364.2,1242.9 L365.7,1243.0 L367.2,1243.1 L368.7,1243.2 L370.2,1243.3 L371.7,1243.4 L373.2,1243.4 L374.7,1243.5 L376.2,1243.5 L377.7,1243.6 L379.2,1243.6 L380.7,1243.7 L382.2,1243.7 L383.7,1243.8 L385.2,1243.8 L386.7,1243.9 L388.2,1243.9 L389.7,1243.9 L391.2,1243.9 L392.7,1244.0 L394.2,1244.0 L395.7,1244.0 L397.2,1244.0 L398.7,1244.1 L400.2,1244.1 L401.7,1244.1 L403.2,1244.1 L404.7,1244.1" fill="none" stroke="#2a7a35" stroke-width="3.6" stroke-linejoin="round"/>
<rect x="92.1" y="1063.6" width="313.9" height="180.70000000000005" fill="none" stroke="#3a3330" stroke-width="1.6"/>
<line x1="87.6" y1="1244.3" x2="92.1" y2="1244.3" stroke="#555" stroke-width="1.5" />
<text x="87.8" y="1254.3" font-size="32.8" text-anchor="end" fill="#111" textLength="39.5" lengthAdjust="spacingAndGlyphs" >0.0</text>
<line x1="87.6" y1="1162.1" x2="92.1" y2="1162.1" stroke="#555" stroke-width="1.5" />
<text x="87.8" y="1172.1" font-size="32.8" text-anchor="end" fill="#111" textLength="39.5" lengthAdjust="spacingAndGlyphs" >0.5</text>
<line x1="87.6" y1="1079.9" x2="92.1" y2="1079.9" stroke="#555" stroke-width="1.5" />
<text x="87.8" y="1089.9" font-size="32.8" text-anchor="end" fill="#111" textLength="39.5" lengthAdjust="spacingAndGlyphs" >1.0</text>
<line x1="89.1" y1="1203.2" x2="92.1" y2="1203.2" stroke="#666" stroke-width="1.2" />
<line x1="89.1" y1="1121.0" x2="92.1" y2="1121.0" stroke="#666" stroke-width="1.2" />
<line x1="92.1" y1="1244.3" x2="92.1" y2="1250.3" stroke="#333" stroke-width="1.5" />
<text x="95.5" y="1282.3" font-size="32.5" text-anchor="middle" fill="#111" textLength="44" lengthAdjust="spacingAndGlyphs" >150</text>
<line x1="231.5" y1="1244.3" x2="231.5" y2="1250.3" stroke="#333" stroke-width="1.5" />
<text x="234.0" y="1282.3" font-size="32.5" text-anchor="middle" fill="#111" textLength="44" lengthAdjust="spacingAndGlyphs" >350</text>
<line x1="406.0" y1="1244.3" x2="406.0" y2="1250.3" stroke="#333" stroke-width="1.5" />
<text x="406.5" y="1282.3" font-size="32.5" text-anchor="middle" fill="#111" textLength="44" lengthAdjust="spacingAndGlyphs" >600</text>
<line x1="263.6" y1="1244.3" x2="263.6" y2="1248.3" stroke="#333" stroke-width="1.2" />
<text transform="translate(25.6,898.6) rotate(-90)" font-size="31.5" text-anchor="middle" fill="#222" textLength="335" lengthAdjust="spacingAndGlyphs">Normalized Frequencies</text>
<text x="445.3" y="593.0" font-size="37" text-anchor="start" fill="#111" textLength="23" lengthAdjust="spacingAndGlyphs" >C</text>
<rect x="500.5" y="623.1" width="216.4" height="8.899999999999977" fill="#bdd76a"/>
<rect x="716.9" y="623.1" width="149.1" height="8.899999999999977" fill="#6db43f"/>
<rect x="866" y="623.1" width="90" height="8.899999999999977" fill="#2c7a3a"/>
<rect x="500.5" y="632" width="455.5" height="3" fill="#9a9a9a"/>
<line x1="500.5" y1="623.6" x2="956.0" y2="623.6" stroke="#666" stroke-width="1" />
<line x1="716.9" y1="623.1" x2="716.9" y2="632.0" stroke="#222" stroke-width="1.5" />
<line x1="866.0" y1="623.1" x2="866.0" y2="632.0" stroke="#777" stroke-width="1.5" />
<line x1="501.0" y1="635.0" x2="501.0" y2="806.4" stroke="#8a8a8a" stroke-width="1.6" />
<line x1="955.7" y1="635.0" x2="955.7" y2="806.4" stroke="#8a8a8a" stroke-width="1.6" />
<line x1="501.0" y1="805.4" x2="955.7" y2="805.4" stroke="#c4c4c4" stroke-width="2.6" />
<line x1="537.3" y1="806.4" x2="537.3" y2="810.4" stroke="#555" stroke-width="1.2" />
<line x1="564.7" y1="806.4" x2="564.7" y2="810.4" stroke="#555" stroke-width="1.2" />
<line x1="585.9" y1="806.4" x2="585.9" y2="810.4" stroke="#555" stroke-width="1.2" />
<line x1="603.3" y1="806.4" x2="603.3" y2="810.4" stroke="#555" stroke-width="1.2" />
<line x1="618.0" y1="806.4" x2="618.0" y2="810.4" stroke="#555" stroke-width="1.2" />
<line x1="630.7" y1="806.4" x2="630.7" y2="810.4" stroke="#555" stroke-width="1.2" />
<line x1="641.9" y1="806.4" x2="641.9" y2="810.4" stroke="#555" stroke-width="1.2" />
<line x1="651.9" y1="806.4" x2="651.9" y2="812.4" stroke="#555" stroke-width="1.2" />
<line x1="717.9" y1="806.4" x2="717.9" y2="810.4" stroke="#555" stroke-width="1.2" />
<line x1="756.4" y1="806.4" x2="756.4" y2="810.4" stroke="#555" stroke-width="1.2" />
<line x1="783.8" y1="806.4" x2="783.8" y2="810.4" stroke="#555" stroke-width="1.2" />
<line x1="805.0" y1="806.4" x2="805.0" y2="810.4" stroke="#555" stroke-width="1.2" />
<line x1="822.4" y1="806.4" x2="822.4" y2="810.4" stroke="#555" stroke-width="1.2" />
<line x1="837.1" y1="806.4" x2="837.1" y2="810.4" stroke="#555" stroke-width="1.2" />
<line x1="849.8" y1="806.4" x2="849.8" y2="810.4" stroke="#555" stroke-width="1.2" />
<line x1="861.0" y1="806.4" x2="861.0" y2="810.4" stroke="#555" stroke-width="1.2" />
<line x1="871.0" y1="806.4" x2="871.0" y2="812.4" stroke="#555" stroke-width="1.2" />
<line x1="937.0" y1="806.4" x2="937.0" y2="810.4" stroke="#555" stroke-width="1.2" />
<line x1="501.0" y1="697.8" x2="955.7" y2="697.8" stroke="#74a043" stroke-width="1.8" stroke-dasharray="3.2,2.6"/>
<line x1="501.0" y1="736.1" x2="955.7" y2="736.1" stroke="#74a043" stroke-width="1.8" stroke-dasharray="3.2,2.6"/>
<g fill="none" stroke="#2c7632" stroke-width="2.3">
<ellipse cx="520.8" cy="735.5" rx="3.1" ry="4.1"/>
<ellipse cx="526.8" cy="718.1" rx="3.1" ry="4.1"/>
<ellipse cx="537.9" cy="716.7" rx="3.1" ry="4.1"/>
<ellipse cx="541.7" cy="711.0" rx="3.1" ry="4.1"/>
<ellipse cx="542.9" cy="734.8" rx="3.1" ry="4.1"/>
<ellipse cx="549.4" cy="730.0" rx="3.1" ry="4.1"/>
<ellipse cx="555.4" cy="742.6" rx="3.1" ry="4.1"/>
<ellipse cx="557.7" cy="705.7" rx="3.1" ry="4.1"/>
<ellipse cx="563.7" cy="707.4" rx="3.1" ry="4.1"/>
<ellipse cx="586.9" cy="722.6" rx="3.1" ry="4.1"/>
<ellipse cx="588.7" cy="707.4" rx="3.1" ry="4.1"/>
<ellipse cx="601.8" cy="738.3" rx="3.1" ry="4.1"/>
<ellipse cx="616.1" cy="742.3" rx="3.1" ry="4.1"/>
<ellipse cx="617.9" cy="692.9" rx="3.1" ry="4.1"/>
<ellipse cx="616.8" cy="742.3" rx="3.1" ry="4.1"/>
<ellipse cx="624.5" cy="735.1" rx="3.1" ry="4.1"/>
<ellipse cx="630.5" cy="703.0" rx="3.1" ry="4.1"/>
<ellipse cx="631.1" cy="717.3" rx="3.1" ry="4.1"/>
<ellipse cx="642.4" cy="700.6" rx="3.1" ry="4.1"/>
<ellipse cx="646.5" cy="720.2" rx="3.1" ry="4.1"/>
<ellipse cx="648.9" cy="704.2" rx="3.1" ry="4.1"/>
<ellipse cx="655.5" cy="717.3" rx="3.1" ry="4.1"/>
<ellipse cx="657.9" cy="702.4" rx="3.1" ry="4.1"/>
<ellipse cx="661.4" cy="725.0" rx="3.1" ry="4.1"/>
<ellipse cx="664.4" cy="687.5" rx="3.1" ry="4.1"/>
<ellipse cx="666.2" cy="734.5" rx="3.1" ry="4.1"/>
<ellipse cx="668.6" cy="708.3" rx="3.1" ry="4.1"/>
<ellipse cx="675.1" cy="732.1" rx="3.1" ry="4.1"/>
<ellipse cx="678.7" cy="708.3" rx="3.1" ry="4.1"/>
<ellipse cx="680.5" cy="741.7" rx="3.1" ry="4.1"/>
<ellipse cx="681.7" cy="726.2" rx="3.1" ry="4.1"/>
<ellipse cx="686.4" cy="706.0" rx="3.1" ry="4.1"/>
<ellipse cx="688.8" cy="709.5" rx="3.1" ry="4.1"/>
<ellipse cx="691.2" cy="739.3" rx="3.1" ry="4.1"/>
<ellipse cx="691.2" cy="757.1" rx="3.1" ry="4.1"/>
<ellipse cx="692.4" cy="701.2" rx="3.1" ry="4.1"/>
<ellipse cx="693.6" cy="731.0" rx="3.1" ry="4.1"/>
<ellipse cx="696.0" cy="740.5" rx="3.1" ry="4.1"/>
<ellipse cx="698.3" cy="735.7" rx="3.1" ry="4.1"/>
<ellipse cx="703.7" cy="685.7" rx="3.1" ry="4.1"/>
<ellipse cx="704.3" cy="726.2" rx="3.1" ry="4.1"/>
<ellipse cx="706.1" cy="704.8" rx="3.1" ry="4.1"/>
<ellipse cx="709.0" cy="692.9" rx="3.1" ry="4.1"/>
<ellipse cx="710.2" cy="732.1" rx="3.1" ry="4.1"/>
<ellipse cx="711.4" cy="709.5" rx="3.1" ry="4.1"/>
<ellipse cx="715.0" cy="717.9" rx="3.1" ry="4.1"/>
<ellipse cx="716.2" cy="729.8" rx="3.1" ry="4.1"/>
<ellipse cx="724.5" cy="711.9" rx="3.1" ry="4.1"/>
<ellipse cx="724.5" cy="695.2" rx="3.1" ry="4.1"/>
<ellipse cx="726.9" cy="691.7" rx="3.1" ry="4.1"/>
<ellipse cx="730.5" cy="722.6" rx="3.1" ry="4.1"/>
<ellipse cx="730.0" cy="709.5" rx="3.1" ry="4.1"/>
<ellipse cx="731.2" cy="723.8" rx="3.1" ry="4.1"/>
<ellipse cx="736.0" cy="716.7" rx="3.1" ry="4.1"/>
<ellipse cx="736.5" cy="683.3" rx="3.1" ry="4.1"/>
<ellipse cx="738.3" cy="750.6" rx="3.1" ry="4.1"/>
<ellipse cx="744.9" cy="712.5" rx="3.1" ry="4.1"/>
<ellipse cx="744.9" cy="722.0" rx="3.1" ry="4.1"/>
<ellipse cx="749.0" cy="672.6" rx="3.1" ry="4.1"/>
<ellipse cx="752.6" cy="723.8" rx="3.1" ry="4.1"/>
<ellipse cx="755.6" cy="703.6" rx="3.1" ry="4.1"/>
<ellipse cx="757.4" cy="735.7" rx="3.1" ry="4.1"/>
<ellipse cx="758.6" cy="745.2" rx="3.1" ry="4.1"/>
<ellipse cx="761.5" cy="740.5" rx="3.1" ry="4.1"/>
<ellipse cx="761.5" cy="756.5" rx="3.1" ry="4.1"/>
<ellipse cx="768.1" cy="702.4" rx="3.1" ry="4.1"/>
<ellipse cx="768.7" cy="706.5" rx="3.1" ry="4.1"/>
<ellipse cx="771.1" cy="733.3" rx="3.1" ry="4.1"/>
<ellipse cx="776.4" cy="695.2" rx="3.1" ry="4.1"/>
<ellipse cx="777.6" cy="706.0" rx="3.1" ry="4.1"/>
<ellipse cx="778.2" cy="685.1" rx="3.1" ry="4.1"/>
<ellipse cx="778.8" cy="720.2" rx="3.1" ry="4.1"/>
<ellipse cx="786.0" cy="750.0" rx="3.1" ry="4.1"/>
<ellipse cx="787.1" cy="695.2" rx="3.1" ry="4.1"/>
<ellipse cx="787.1" cy="704.8" rx="3.1" ry="4.1"/>
<ellipse cx="791.3" cy="721.4" rx="3.1" ry="4.1"/>
<ellipse cx="792.5" cy="739.3" rx="3.1" ry="4.1"/>
<ellipse cx="794.3" cy="702.4" rx="3.1" ry="4.1"/>
<ellipse cx="798.5" cy="727.4" rx="3.1" ry="4.1"/>
<ellipse cx="803.2" cy="690.5" rx="3.1" ry="4.1"/>
<ellipse cx="805.6" cy="694.6" rx="3.1" ry="4.1"/>
<ellipse cx="811.5" cy="710.1" rx="3.1" ry="4.1"/>
<ellipse cx="816.3" cy="725.0" rx="3.1" ry="4.1"/>
<ellipse cx="818.7" cy="711.9" rx="3.1" ry="4.1"/>
<ellipse cx="822.3" cy="692.9" rx="3.1" ry="4.1"/>
<ellipse cx="824.0" cy="729.8" rx="3.1" ry="4.1"/>
<ellipse cx="828.2" cy="696.4" rx="3.1" ry="4.1"/>
<ellipse cx="828.2" cy="703.6" rx="3.1" ry="4.1"/>
<ellipse cx="828.8" cy="719.0" rx="3.1" ry="4.1"/>
<ellipse cx="830.6" cy="716.7" rx="3.1" ry="4.1"/>
<ellipse cx="834.8" cy="727.4" rx="3.1" ry="4.1"/>
<ellipse cx="839.5" cy="705.4" rx="3.1" ry="4.1"/>
<ellipse cx="857.5" cy="708.9" rx="3.1" ry="4.1"/>
<ellipse cx="874.2" cy="688.7" rx="3.1" ry="4.1"/>
<ellipse cx="877.1" cy="698.2" rx="3.1" ry="4.1"/>
<ellipse cx="876.5" cy="704.8" rx="3.1" ry="4.1"/>
<ellipse cx="892.0" cy="703.0" rx="3.1" ry="4.1"/>
<ellipse cx="890.2" cy="714.3" rx="3.1" ry="4.1"/>
<ellipse cx="893.8" cy="720.8" rx="3.1" ry="4.1"/>
<ellipse cx="902.7" cy="710.1" rx="3.1" ry="4.1"/>
<ellipse cx="918.2" cy="726.8" rx="3.1" ry="4.1"/>
</g>
<path d="M541.0,721.0 L586.0,716.0 L617.0,712.0 L634.0,708.6 L650.0,710.0 L665.0,713.0 L682.0,717.0 L695.0,719.0 L707.0,713.0 L722.0,711.0 L729.0,701.0 L746.0,707.0 L763.0,718.0 L772.0,713.0 L782.0,711.0 L792.0,714.5 L803.0,709.0 L815.0,704.0 L828.0,707.0 L857.0,708.0 L896.0,709.5" fill="none" stroke="#2b7332" stroke-width="5.2" stroke-linejoin="round" stroke-linecap="round"/>
<line x1="495.0" y1="679.9" x2="501.0" y2="679.9" stroke="#666" stroke-width="1.3" />
<line x1="497.5" y1="660.9" x2="501.0" y2="660.9" stroke="#888" stroke-width="1" />
<line x1="497.5" y1="649.8" x2="501.0" y2="649.8" stroke="#888" stroke-width="1" />
<line x1="497.5" y1="642.0" x2="501.0" y2="642.0" stroke="#888" stroke-width="1" />
<line x1="495.0" y1="742.9" x2="501.0" y2="742.9" stroke="#666" stroke-width="1.3" />
<line x1="497.5" y1="723.9" x2="501.0" y2="723.9" stroke="#888" stroke-width="1" />
<line x1="497.5" y1="712.8" x2="501.0" y2="712.8" stroke="#888" stroke-width="1" />
<line x1="497.5" y1="705.0" x2="501.0" y2="705.0" stroke="#888" stroke-width="1" />
<line x1="497.5" y1="698.9" x2="501.0" y2="698.9" stroke="#888" stroke-width="1" />
<line x1="497.5" y1="693.9" x2="501.0" y2="693.9" stroke="#888" stroke-width="1" />
<line x1="497.5" y1="689.7" x2="501.0" y2="689.7" stroke="#888" stroke-width="1" />
<line x1="497.5" y1="686.0" x2="501.0" y2="686.0" stroke="#888" stroke-width="1" />
<line x1="497.5" y1="682.8" x2="501.0" y2="682.8" stroke="#888" stroke-width="1" />
<text x="480.0" y="690.5" font-size="26" text-anchor="end" fill="#111" textLength="20" lengthAdjust="spacingAndGlyphs" >10</text>
<text x="480.5" y="676.0" font-size="15" text-anchor="start" fill="#111" textLength="13" lengthAdjust="spacingAndGlyphs" >-2</text>
<text x="480.0" y="753.5" font-size="26" text-anchor="end" fill="#111" textLength="20" lengthAdjust="spacingAndGlyphs" >10</text>
<text x="480.5" y="739.0" font-size="15" text-anchor="start" fill="#111" textLength="13" lengthAdjust="spacingAndGlyphs" >-3</text>
<text transform="translate(445,710) rotate(-90)" font-size="34" text-anchor="middle" fill="#222" textLength="166" lengthAdjust="spacingAndGlyphs">Dm (μm²/s)</text>
<rect x="502.7" y="834.7" width="214.2" height="9.699999999999932" fill="#bdd76a"/>
<rect x="716.9" y="834.7" width="149.1" height="9.699999999999932" fill="#6db43f"/>
<rect x="866" y="834.7" width="90" height="9.699999999999932" fill="#2c7a3a"/>
<rect x="502.7" y="844.4" width="453.3" height="1.6000000000000227" fill="#9a9a9a"/>
<line x1="502.7" y1="835.2" x2="956.0" y2="835.2" stroke="#666" stroke-width="1" />
<line x1="716.9" y1="834.7" x2="716.9" y2="844.4" stroke="#222" stroke-width="1.5" />
<line x1="866.0" y1="834.7" x2="866.0" y2="844.4" stroke="#777" stroke-width="1.5" />
<line x1="504.1" y1="846.0" x2="504.1" y2="1031.2" stroke="#8a8a8a" stroke-width="1.6" />
<line x1="955.7" y1="846.0" x2="955.7" y2="1031.2" stroke="#8a8a8a" stroke-width="1.6" />
<line x1="504.1" y1="1030.2" x2="955.7" y2="1030.2" stroke="#c4c4c4" stroke-width="2.6" />
<line x1="537.3" y1="1031.2" x2="537.3" y2="1035.2" stroke="#555" stroke-width="1.2" />
<line x1="564.7" y1="1031.2" x2="564.7" y2="1035.2" stroke="#555" stroke-width="1.2" />
<line x1="585.9" y1="1031.2" x2="585.9" y2="1035.2" stroke="#555" stroke-width="1.2" />
<line x1="603.3" y1="1031.2" x2="603.3" y2="1035.2" stroke="#555" stroke-width="1.2" />
<line x1="618.0" y1="1031.2" x2="618.0" y2="1035.2" stroke="#555" stroke-width="1.2" />
<line x1="630.7" y1="1031.2" x2="630.7" y2="1035.2" stroke="#555" stroke-width="1.2" />
<line x1="641.9" y1="1031.2" x2="641.9" y2="1035.2" stroke="#555" stroke-width="1.2" />
<line x1="651.9" y1="1031.2" x2="651.9" y2="1037.2" stroke="#555" stroke-width="1.2" />
<line x1="717.9" y1="1031.2" x2="717.9" y2="1035.2" stroke="#555" stroke-width="1.2" />
<line x1="756.4" y1="1031.2" x2="756.4" y2="1035.2" stroke="#555" stroke-width="1.2" />
<line x1="783.8" y1="1031.2" x2="783.8" y2="1035.2" stroke="#555" stroke-width="1.2" />
<line x1="805.0" y1="1031.2" x2="805.0" y2="1035.2" stroke="#555" stroke-width="1.2" />
<line x1="822.4" y1="1031.2" x2="822.4" y2="1035.2" stroke="#555" stroke-width="1.2" />
<line x1="837.1" y1="1031.2" x2="837.1" y2="1035.2" stroke="#555" stroke-width="1.2" />
<line x1="849.8" y1="1031.2" x2="849.8" y2="1035.2" stroke="#555" stroke-width="1.2" />
<line x1="861.0" y1="1031.2" x2="861.0" y2="1035.2" stroke="#555" stroke-width="1.2" />
<line x1="871.0" y1="1031.2" x2="871.0" y2="1037.2" stroke="#555" stroke-width="1.2" />
<line x1="937.0" y1="1031.2" x2="937.0" y2="1035.2" stroke="#555" stroke-width="1.2" />
<line x1="504.1" y1="910.5" x2="955.7" y2="910.5" stroke="#74a043" stroke-width="1.8" stroke-dasharray="3.2,2.6"/>
<line x1="504.1" y1="965.4" x2="955.7" y2="965.4" stroke="#74a043" stroke-width="1.8" stroke-dasharray="3.2,2.6"/>
<g fill="none" stroke="#2c7632" stroke-width="2.3">
<ellipse cx="524.4" cy="952.0" rx="3.1" ry="4.1"/>
<ellipse cx="529.8" cy="936.5" rx="3.1" ry="4.1"/>
<ellipse cx="540.5" cy="937.1" rx="3.1" ry="4.1"/>
<ellipse cx="545.2" cy="930.0" rx="3.1" ry="4.1"/>
<ellipse cx="545.8" cy="905.0" rx="3.1" ry="4.1"/>
<ellipse cx="553.0" cy="909.2" rx="3.1" ry="4.1"/>
<ellipse cx="558.3" cy="981.2" rx="3.1" ry="4.1"/>
<ellipse cx="560.7" cy="953.2" rx="3.1" ry="4.1"/>
<ellipse cx="566.1" cy="971.1" rx="3.1" ry="4.1"/>
<ellipse cx="589.9" cy="930.0" rx="3.1" ry="4.1"/>
<ellipse cx="591.7" cy="977.6" rx="3.1" ry="4.1"/>
<ellipse cx="604.2" cy="906.2" rx="3.1" ry="4.1"/>
<ellipse cx="605.4" cy="959.2" rx="3.1" ry="4.1"/>
<ellipse cx="618.6" cy="981.2" rx="3.1" ry="4.1"/>
<ellipse cx="621.0" cy="934.8" rx="3.1" ry="4.1"/>
<ellipse cx="626.9" cy="955.0" rx="3.1" ry="4.1"/>
<ellipse cx="633.5" cy="934.2" rx="3.1" ry="4.1"/>
<ellipse cx="633.5" cy="952.0" rx="3.1" ry="4.1"/>
<ellipse cx="643.0" cy="895.5" rx="3.1" ry="4.1"/>
<ellipse cx="644.8" cy="926.4" rx="3.1" ry="4.1"/>
<ellipse cx="648.3" cy="938.9" rx="3.1" ry="4.1"/>
<ellipse cx="650.7" cy="956.2" rx="3.1" ry="4.1"/>
<ellipse cx="658.5" cy="902.0" rx="3.1" ry="4.1"/>
<ellipse cx="659.6" cy="943.1" rx="3.1" ry="4.1"/>
<ellipse cx="663.8" cy="968.7" rx="3.1" ry="4.1"/>
<ellipse cx="666.2" cy="914.5" rx="3.1" ry="4.1"/>
<ellipse cx="666.2" cy="959.8" rx="3.1" ry="4.1"/>
<ellipse cx="669.2" cy="919.9" rx="3.1" ry="4.1"/>
<ellipse cx="669.8" cy="936.0" rx="3.1" ry="4.1"/>
<ellipse cx="671.5" cy="972.3" rx="3.1" ry="4.1"/>
<ellipse cx="677.5" cy="904.4" rx="3.1" ry="4.1"/>
<ellipse cx="678.1" cy="926.4" rx="3.1" ry="4.1"/>
<ellipse cx="681.1" cy="931.2" rx="3.1" ry="4.1"/>
<ellipse cx="682.3" cy="936.0" rx="3.1" ry="4.1"/>
<ellipse cx="682.9" cy="953.8" rx="3.1" ry="4.1"/>
<ellipse cx="682.9" cy="971.7" rx="3.1" ry="4.1"/>
<ellipse cx="691.8" cy="921.7" rx="3.1" ry="4.1"/>
<ellipse cx="693.0" cy="911.0" rx="3.1" ry="4.1"/>
<ellipse cx="693.0" cy="950.2" rx="3.1" ry="4.1"/>
<ellipse cx="694.2" cy="900.2" rx="3.1" ry="4.1"/>
<ellipse cx="694.8" cy="931.8" rx="3.1" ry="4.1"/>
<ellipse cx="697.1" cy="953.8" rx="3.1" ry="4.1"/>
<ellipse cx="697.7" cy="906.2" rx="3.1" ry="4.1"/>
<ellipse cx="698.3" cy="970.5" rx="3.1" ry="4.1"/>
<ellipse cx="700.7" cy="950.2" rx="3.1" ry="4.1"/>
<ellipse cx="704.3" cy="893.1" rx="3.1" ry="4.1"/>
<ellipse cx="705.5" cy="938.3" rx="3.1" ry="4.1"/>
<ellipse cx="706.7" cy="958.6" rx="3.1" ry="4.1"/>
<ellipse cx="709.0" cy="899.0" rx="3.1" ry="4.1"/>
<ellipse cx="709.6" cy="905.0" rx="3.1" ry="4.1"/>
<ellipse cx="711.4" cy="984.8" rx="3.1" ry="4.1"/>
<ellipse cx="713.2" cy="950.2" rx="3.1" ry="4.1"/>
<ellipse cx="716.2" cy="933.6" rx="3.1" ry="4.1"/>
<ellipse cx="717.4" cy="908.6" rx="3.1" ry="4.1"/>
<ellipse cx="718.6" cy="952.6" rx="3.1" ry="4.1"/>
<ellipse cx="726.9" cy="969.3" rx="3.1" ry="4.1"/>
<ellipse cx="728.1" cy="988.3" rx="3.1" ry="4.1"/>
<ellipse cx="729.3" cy="976.4" rx="3.1" ry="4.1"/>
<ellipse cx="729.9" cy="947.9" rx="3.1" ry="4.1"/>
<ellipse cx="732.3" cy="938.3" rx="3.1" ry="4.1"/>
<ellipse cx="731.8" cy="938.3" rx="3.1" ry="4.1"/>
<ellipse cx="730.0" cy="988.3" rx="3.1" ry="4.1"/>
<ellipse cx="737.1" cy="978.2" rx="3.1" ry="4.1"/>
<ellipse cx="739.5" cy="905.0" rx="3.1" ry="4.1"/>
<ellipse cx="746.7" cy="914.5" rx="3.1" ry="4.1"/>
<ellipse cx="746.7" cy="965.7" rx="3.1" ry="4.1"/>
<ellipse cx="750.2" cy="965.7" rx="3.1" ry="4.1"/>
<ellipse cx="755.0" cy="952.6" rx="3.1" ry="4.1"/>
<ellipse cx="756.2" cy="891.9" rx="3.1" ry="4.1"/>
<ellipse cx="758.6" cy="953.8" rx="3.1" ry="4.1"/>
<ellipse cx="759.2" cy="969.3" rx="3.1" ry="4.1"/>
<ellipse cx="760.4" cy="937.1" rx="3.1" ry="4.1"/>
<ellipse cx="762.1" cy="899.0" rx="3.1" ry="4.1"/>
<ellipse cx="763.3" cy="879.4" rx="3.1" ry="4.1"/>
<ellipse cx="768.7" cy="963.9" rx="3.1" ry="4.1"/>
<ellipse cx="771.1" cy="929.4" rx="3.1" ry="4.1"/>
<ellipse cx="779.4" cy="983.6" rx="3.1" ry="4.1"/>
<ellipse cx="781.2" cy="926.4" rx="3.1" ry="4.1"/>
<ellipse cx="781.2" cy="934.8" rx="3.1" ry="4.1"/>
<ellipse cx="779.4" cy="950.2" rx="3.1" ry="4.1"/>
<ellipse cx="782.4" cy="952.6" rx="3.1" ry="4.1"/>
<ellipse cx="788.3" cy="897.9" rx="3.1" ry="4.1"/>
<ellipse cx="789.5" cy="968.7" rx="3.1" ry="4.1"/>
<ellipse cx="792.5" cy="926.4" rx="3.1" ry="4.1"/>
<ellipse cx="794.3" cy="951.4" rx="3.1" ry="4.1"/>
<ellipse cx="799.0" cy="941.9" rx="3.1" ry="4.1"/>
<ellipse cx="801.4" cy="959.2" rx="3.1" ry="4.1"/>
<ellipse cx="806.2" cy="925.2" rx="3.1" ry="4.1"/>
<ellipse cx="803.8" cy="898.5" rx="3.1" ry="4.1"/>
<ellipse cx="812.1" cy="959.8" rx="3.1" ry="4.1"/>
<ellipse cx="816.9" cy="891.3" rx="3.1" ry="4.1"/>
<ellipse cx="819.3" cy="919.3" rx="3.1" ry="4.1"/>
<ellipse cx="821.1" cy="947.9" rx="3.1" ry="4.1"/>
<ellipse cx="824.0" cy="953.8" rx="3.1" ry="4.1"/>
<ellipse cx="825.2" cy="893.1" rx="3.1" ry="4.1"/>
<ellipse cx="828.8" cy="977.0" rx="3.1" ry="4.1"/>
<ellipse cx="829.4" cy="959.2" rx="3.1" ry="4.1"/>
<ellipse cx="825.8" cy="990.1" rx="3.1" ry="4.1"/>
<ellipse cx="830.0" cy="884.8" rx="3.1" ry="4.1"/>
<ellipse cx="830.0" cy="900.2" rx="3.1" ry="4.1"/>
<ellipse cx="831.8" cy="922.9" rx="3.1" ry="4.1"/>
<ellipse cx="834.8" cy="910.4" rx="3.1" ry="4.1"/>
<ellipse cx="840.1" cy="946.7" rx="3.1" ry="4.1"/>
<ellipse cx="859.3" cy="936.0" rx="3.1" ry="4.1"/>
<ellipse cx="874.8" cy="932.4" rx="3.1" ry="4.1"/>
<ellipse cx="877.1" cy="920.5" rx="3.1" ry="4.1"/>
<ellipse cx="878.3" cy="937.7" rx="3.1" ry="4.1"/>
<ellipse cx="889.6" cy="937.1" rx="3.1" ry="4.1"/>
<ellipse cx="892.6" cy="880.0" rx="3.1" ry="4.1"/>
<ellipse cx="894.4" cy="909.8" rx="3.1" ry="4.1"/>
<ellipse cx="903.3" cy="902.6" rx="3.1" ry="4.1"/>
<ellipse cx="892.0" cy="977.0" rx="3.1" ry="4.1"/>
<ellipse cx="918.8" cy="928.2" rx="3.1" ry="4.1"/>
</g>
<path d="M544.0,937.0 L605.0,947.0 L645.0,930.0 L658.0,933.6 L667.4,943.0 L684.0,943.0 L693.6,925.0 L716.0,940.7 L729.3,961.0 L737.0,955.0 L748.0,935.0 L765.7,928.8 L777.6,943.0 L813.3,928.8 L823.0,936.0 L849.0,929.0 L897.4,924.0" fill="none" stroke="#2b7332" stroke-width="5.2" stroke-linejoin="round" stroke-linecap="round"/>
<line x1="498.5" y1="901.4" x2="504.0" y2="901.4" stroke="#777" stroke-width="1.3" />
<text x="497.0" y="911.6" font-size="33" text-anchor="end" fill="#111" textLength="33" lengthAdjust="spacingAndGlyphs" >0.9</text>
<line x1="498.5" y1="974.1" x2="504.0" y2="974.1" stroke="#777" stroke-width="1.3" />
<text x="497.0" y="984.3" font-size="33" text-anchor="end" fill="#111" textLength="33" lengthAdjust="spacingAndGlyphs" >0.5</text>
<line x1="501.0" y1="865.0" x2="504.0" y2="865.0" stroke="#999" stroke-width="1" />
<line x1="501.0" y1="937.8" x2="504.0" y2="937.8" stroke="#999" stroke-width="1" />
<line x1="501.0" y1="1010.5" x2="504.0" y2="1010.5" stroke="#999" stroke-width="1" />
<text transform="translate(445,929.2) rotate(-90)" font-size="48" text-anchor="middle" fill="#111">α</text>
<rect x="499.3" y="1063" width="217.6" height="8.599999999999909" fill="#bdd76a"/>
<rect x="716.9" y="1063" width="149.1" height="8.599999999999909" fill="#6db43f"/>
<rect x="866" y="1063" width="90" height="8.599999999999909" fill="#2c7a3a"/>
<rect x="499.3" y="1071.6" width="456.7" height="2.2000000000000455" fill="#9a9a9a"/>
<line x1="499.3" y1="1063.5" x2="956.0" y2="1063.5" stroke="#666" stroke-width="1" />
<line x1="716.9" y1="1063.0" x2="716.9" y2="1071.6" stroke="#222" stroke-width="1.5" />
<line x1="866.0" y1="1063.0" x2="866.0" y2="1071.6" stroke="#777" stroke-width="1.5" />
<line x1="499.5" y1="1073.8" x2="499.5" y2="1245.5" stroke="#8a8a8a" stroke-width="1.6" />
<line x1="955.7" y1="1073.8" x2="955.7" y2="1245.5" stroke="#8a8a8a" stroke-width="1.6" />
<line x1="499.5" y1="1244.5" x2="955.7" y2="1244.5" stroke="#c4c4c4" stroke-width="2.6" />
<line x1="537.3" y1="1245.5" x2="537.3" y2="1249.5" stroke="#555" stroke-width="1.2" />
<line x1="564.7" y1="1245.5" x2="564.7" y2="1249.5" stroke="#555" stroke-width="1.2" />
<line x1="585.9" y1="1245.5" x2="585.9" y2="1249.5" stroke="#555" stroke-width="1.2" />
<line x1="603.3" y1="1245.5" x2="603.3" y2="1249.5" stroke="#555" stroke-width="1.2" />
<line x1="618.0" y1="1245.5" x2="618.0" y2="1249.5" stroke="#555" stroke-width="1.2" />
<line x1="630.7" y1="1245.5" x2="630.7" y2="1249.5" stroke="#555" stroke-width="1.2" />
<line x1="641.9" y1="1245.5" x2="641.9" y2="1249.5" stroke="#555" stroke-width="1.2" />
<line x1="651.9" y1="1245.5" x2="651.9" y2="1251.5" stroke="#555" stroke-width="1.2" />
<line x1="717.9" y1="1245.5" x2="717.9" y2="1249.5" stroke="#555" stroke-width="1.2" />
<line x1="756.4" y1="1245.5" x2="756.4" y2="1249.5" stroke="#555" stroke-width="1.2" />
<line x1="783.8" y1="1245.5" x2="783.8" y2="1249.5" stroke="#555" stroke-width="1.2" />
<line x1="805.0" y1="1245.5" x2="805.0" y2="1249.5" stroke="#555" stroke-width="1.2" />
<line x1="822.4" y1="1245.5" x2="822.4" y2="1249.5" stroke="#555" stroke-width="1.2" />
<line x1="837.1" y1="1245.5" x2="837.1" y2="1249.5" stroke="#555" stroke-width="1.2" />
<line x1="849.8" y1="1245.5" x2="849.8" y2="1249.5" stroke="#555" stroke-width="1.2" />
<line x1="861.0" y1="1245.5" x2="861.0" y2="1249.5" stroke="#555" stroke-width="1.2" />
<line x1="871.0" y1="1245.5" x2="871.0" y2="1251.5" stroke="#555" stroke-width="1.2" />
<line x1="937.0" y1="1245.5" x2="937.0" y2="1249.5" stroke="#555" stroke-width="1.2" />
<line x1="499.5" y1="1144.3" x2="955.7" y2="1144.3" stroke="#74a043" stroke-width="1.8" stroke-dasharray="3.2,2.6"/>
<line x1="499.5" y1="1191.4" x2="955.7" y2="1191.4" stroke="#74a043" stroke-width="1.8" stroke-dasharray="3.2,2.6"/>
<g fill="none" stroke="#2c7632" stroke-width="2.3">
<ellipse cx="520.8" cy="1183.6" rx="3.1" ry="4.1"/>
<ellipse cx="526.2" cy="1170.5" rx="3.1" ry="4.1"/>
<ellipse cx="536.9" cy="1177.0" rx="3.1" ry="4.1"/>
<ellipse cx="541.7" cy="1187.1" rx="3.1" ry="4.1"/>
<ellipse cx="542.3" cy="1198.5" rx="3.1" ry="4.1"/>
<ellipse cx="554.2" cy="1192.5" rx="3.1" ry="4.1"/>
<ellipse cx="557.7" cy="1179.4" rx="3.1" ry="4.1"/>
<ellipse cx="562.5" cy="1191.9" rx="3.1" ry="4.1"/>
<ellipse cx="586.9" cy="1137.1" rx="3.1" ry="4.1"/>
<ellipse cx="588.7" cy="1171.7" rx="3.1" ry="4.1"/>
<ellipse cx="601.2" cy="1182.4" rx="3.1" ry="4.1"/>
<ellipse cx="602.4" cy="1199.0" rx="3.1" ry="4.1"/>
<ellipse cx="615.5" cy="1192.5" rx="3.1" ry="4.1"/>
<ellipse cx="616.2" cy="1191.9" rx="3.1" ry="4.1"/>
<ellipse cx="618.6" cy="1170.5" rx="3.1" ry="4.1"/>
<ellipse cx="624.5" cy="1205.6" rx="3.1" ry="4.1"/>
<ellipse cx="631.1" cy="1143.1" rx="3.1" ry="4.1"/>
<ellipse cx="631.1" cy="1180.0" rx="3.1" ry="4.1"/>
<ellipse cx="640.0" cy="1159.2" rx="3.1" ry="4.1"/>
<ellipse cx="642.4" cy="1180.0" rx="3.1" ry="4.1"/>
<ellipse cx="646.0" cy="1209.2" rx="3.1" ry="4.1"/>
<ellipse cx="648.3" cy="1217.5" rx="3.1" ry="4.1"/>
<ellipse cx="655.5" cy="1163.3" rx="3.1" ry="4.1"/>
<ellipse cx="656.1" cy="1177.6" rx="3.1" ry="4.1"/>
<ellipse cx="657.9" cy="1158.6" rx="3.1" ry="4.1"/>
<ellipse cx="661.4" cy="1180.0" rx="3.1" ry="4.1"/>
<ellipse cx="664.4" cy="1136.5" rx="3.1" ry="4.1"/>
<ellipse cx="666.8" cy="1193.7" rx="3.1" ry="4.1"/>
<ellipse cx="667.4" cy="1153.8" rx="3.1" ry="4.1"/>
<ellipse cx="669.8" cy="1184.8" rx="3.1" ry="4.1"/>
<ellipse cx="675.7" cy="1131.8" rx="3.1" ry="4.1"/>
<ellipse cx="675.7" cy="1198.5" rx="3.1" ry="4.1"/>
<ellipse cx="680.5" cy="1200.2" rx="3.1" ry="4.1"/>
<ellipse cx="681.1" cy="1184.8" rx="3.1" ry="4.1"/>
<ellipse cx="681.1" cy="1191.9" rx="3.1" ry="4.1"/>
<ellipse cx="681.7" cy="1157.4" rx="3.1" ry="4.1"/>
<ellipse cx="682.3" cy="1163.9" rx="3.1" ry="4.1"/>
<ellipse cx="689.4" cy="1111.5" rx="3.1" ry="4.1"/>
<ellipse cx="690.6" cy="1182.4" rx="3.1" ry="4.1"/>
<ellipse cx="691.2" cy="1170.5" rx="3.1" ry="4.1"/>
<ellipse cx="692.4" cy="1190.1" rx="3.1" ry="4.1"/>
<ellipse cx="694.8" cy="1131.2" rx="3.1" ry="4.1"/>
<ellipse cx="695.4" cy="1209.2" rx="3.1" ry="4.1"/>
<ellipse cx="699.5" cy="1183.6" rx="3.1" ry="4.1"/>
<ellipse cx="702.5" cy="1157.4" rx="3.1" ry="4.1"/>
<ellipse cx="704.3" cy="1139.5" rx="3.1" ry="4.1"/>
<ellipse cx="704.9" cy="1193.1" rx="3.1" ry="4.1"/>
<ellipse cx="706.7" cy="1157.4" rx="3.1" ry="4.1"/>
<ellipse cx="708.5" cy="1196.1" rx="3.1" ry="4.1"/>
<ellipse cx="709.6" cy="1094.3" rx="3.1" ry="4.1"/>
<ellipse cx="710.8" cy="1184.8" rx="3.1" ry="4.1"/>
<ellipse cx="712.0" cy="1176.4" rx="3.1" ry="4.1"/>
<ellipse cx="716.2" cy="1188.3" rx="3.1" ry="4.1"/>
<ellipse cx="716.8" cy="1157.4" rx="3.1" ry="4.1"/>
<ellipse cx="725.1" cy="1194.9" rx="3.1" ry="4.1"/>
<ellipse cx="727.5" cy="1136.0" rx="3.1" ry="4.1"/>
<ellipse cx="727.5" cy="1101.4" rx="3.1" ry="4.1"/>
<ellipse cx="728.1" cy="1182.4" rx="3.1" ry="4.1"/>
<ellipse cx="730.0" cy="1136.0" rx="3.1" ry="4.1"/>
<ellipse cx="730.0" cy="1182.4" rx="3.1" ry="4.1"/>
<ellipse cx="736.5" cy="1136.0" rx="3.1" ry="4.1"/>
<ellipse cx="736.5" cy="1147.9" rx="3.1" ry="4.1"/>
<ellipse cx="738.3" cy="1205.6" rx="3.1" ry="4.1"/>
<ellipse cx="744.3" cy="1156.2" rx="3.1" ry="4.1"/>
<ellipse cx="746.1" cy="1198.5" rx="3.1" ry="4.1"/>
<ellipse cx="746.7" cy="1181.2" rx="3.1" ry="4.1"/>
<ellipse cx="749.0" cy="1121.7" rx="3.1" ry="4.1"/>
<ellipse cx="755.0" cy="1181.2" rx="3.1" ry="4.1"/>
<ellipse cx="758.0" cy="1149.6" rx="3.1" ry="4.1"/>
<ellipse cx="759.2" cy="1190.7" rx="3.1" ry="4.1"/>
<ellipse cx="761.5" cy="1159.2" rx="3.1" ry="4.1"/>
<ellipse cx="763.3" cy="1182.4" rx="3.1" ry="4.1"/>
<ellipse cx="766.9" cy="1134.8" rx="3.1" ry="4.1"/>
<ellipse cx="768.1" cy="1146.7" rx="3.1" ry="4.1"/>
<ellipse cx="769.9" cy="1156.2" rx="3.1" ry="4.1"/>
<ellipse cx="769.9" cy="1175.2" rx="3.1" ry="4.1"/>
<ellipse cx="772.3" cy="1184.2" rx="3.1" ry="4.1"/>
<ellipse cx="778.2" cy="1151.4" rx="3.1" ry="4.1"/>
<ellipse cx="780.6" cy="1128.2" rx="3.1" ry="4.1"/>
<ellipse cx="780.6" cy="1175.2" rx="3.1" ry="4.1"/>
<ellipse cx="786.5" cy="1182.4" rx="3.1" ry="4.1"/>
<ellipse cx="787.7" cy="1109.2" rx="3.1" ry="4.1"/>
<ellipse cx="788.9" cy="1152.6" rx="3.1" ry="4.1"/>
<ellipse cx="792.5" cy="1174.0" rx="3.1" ry="4.1"/>
<ellipse cx="794.9" cy="1151.4" rx="3.1" ry="4.1"/>
<ellipse cx="798.5" cy="1172.3" rx="3.1" ry="4.1"/>
<ellipse cx="800.8" cy="1149.6" rx="3.1" ry="4.1"/>
<ellipse cx="805.6" cy="1178.2" rx="3.1" ry="4.1"/>
<ellipse cx="812.1" cy="1151.4" rx="3.1" ry="4.1"/>
<ellipse cx="817.5" cy="1168.7" rx="3.1" ry="4.1"/>
<ellipse cx="819.3" cy="1132.4" rx="3.1" ry="4.1"/>
<ellipse cx="820.5" cy="1178.8" rx="3.1" ry="4.1"/>
<ellipse cx="822.9" cy="1118.1" rx="3.1" ry="4.1"/>
<ellipse cx="825.2" cy="1135.4" rx="3.1" ry="4.1"/>
<ellipse cx="828.2" cy="1165.7" rx="3.1" ry="4.1"/>
<ellipse cx="829.4" cy="1115.1" rx="3.1" ry="4.1"/>
<ellipse cx="828.8" cy="1144.3" rx="3.1" ry="4.1"/>
<ellipse cx="834.8" cy="1168.7" rx="3.1" ry="4.1"/>
<ellipse cx="836.0" cy="1183.6" rx="3.1" ry="4.1"/>
<ellipse cx="840.1" cy="1157.4" rx="3.1" ry="4.1"/>
<ellipse cx="858.7" cy="1158.0" rx="3.1" ry="4.1"/>
<ellipse cx="860.5" cy="1145.5" rx="3.1" ry="4.1"/>
<ellipse cx="875.4" cy="1120.5" rx="3.1" ry="4.1"/>
<ellipse cx="878.3" cy="1113.3" rx="3.1" ry="4.1"/>
<ellipse cx="877.1" cy="1142.5" rx="3.1" ry="4.1"/>
<ellipse cx="890.2" cy="1122.9" rx="3.1" ry="4.1"/>
<ellipse cx="892.6" cy="1142.5" rx="3.1" ry="4.1"/>
<ellipse cx="893.2" cy="1163.3" rx="3.1" ry="4.1"/>
<ellipse cx="903.9" cy="1166.9" rx="3.1" ry="4.1"/>
<ellipse cx="895.0" cy="1181.2" rx="3.1" ry="4.1"/>
<ellipse cx="919.4" cy="1161.5" rx="3.1" ry="4.1"/>
</g>
<path d="M540.5,1184.8 L615.0,1180.0 L642.4,1180.0 L666.2,1165.0 L678.1,1173.0 L692.4,1170.0 L712.6,1168.7 L728.1,1151.4 L734.0,1151.4 L750.2,1172.9 L761.0,1163.3 L783.6,1162.1 L813.3,1153.8 L825.2,1150.2 L850.0,1151.4 L897.4,1150.2" fill="none" stroke="#2b7332" stroke-width="5.2" stroke-linejoin="round" stroke-linecap="round"/>
<line x1="494.5" y1="1137.7" x2="499.5" y2="1137.7" stroke="#777" stroke-width="1.3" />
<text x="492.3" y="1148.0" font-size="30" text-anchor="end" fill="#111" textLength="39" lengthAdjust="spacingAndGlyphs" >400</text>
<line x1="494.5" y1="1222.7" x2="499.5" y2="1222.7" stroke="#777" stroke-width="1.3" />
<text x="492.3" y="1233.0" font-size="30" text-anchor="end" fill="#111" textLength="39" lengthAdjust="spacingAndGlyphs" >200</text>
<line x1="497.0" y1="1095.2" x2="499.5" y2="1095.2" stroke="#999" stroke-width="1" />
<line x1="497.0" y1="1180.2" x2="499.5" y2="1180.2" stroke="#999" stroke-width="1" />
<text transform="translate(445.1,1155.6) rotate(-90)" font-size="34" text-anchor="middle" fill="#222" textLength="142" lengthAdjust="spacingAndGlyphs">Size (nm)</text>
<text x="631.5" y="1289.3" font-size="40" text-anchor="start" fill="#111" textLength="32.5" lengthAdjust="spacingAndGlyphs" >10</text>
<text x="664.5" y="1270.2" font-size="23" text-anchor="start" fill="#111" >3</text>
<text x="850.6" y="1289.3" font-size="40" text-anchor="start" fill="#111" textLength="32.5" lengthAdjust="spacingAndGlyphs" >10</text>
<text x="883.6" y="1270.2" font-size="23" text-anchor="start" fill="#111" >4</text>
<text x="582.8" y="1320.5" font-size="32.5" text-anchor="start" fill="#222" textLength="270" lengthAdjust="spacingAndGlyphs" >Normalized Counts</text>
<text x="11.5" y="1321.0" font-size="37" text-anchor="start" fill="#111" textLength="25.5" lengthAdjust="spacingAndGlyphs" >D</text>
<g stroke="#ebe2df" stroke-width="1" fill="none">
<line x1="125.9" y1="1587.1" x2="506.6" y2="1417.4" stroke="#ebe2df" stroke-width="1" />
<line x1="130.8" y1="1668.8" x2="507.7" y2="1492.5" stroke="#ebe2df" stroke-width="1" />
<line x1="135.8" y1="1749.8" x2="508.8" y2="1567.0" stroke="#ebe2df" stroke-width="1" />
<line x1="140.6" y1="1828.9" x2="509.9" y2="1639.8" stroke="#ebe2df" stroke-width="1" />
<line x1="145.4" y1="1907.3" x2="511.0" y2="1711.9" stroke="#ebe2df" stroke-width="1" />
<line x1="150.2" y1="1986.3" x2="512.0" y2="1784.5" stroke="#ebe2df" stroke-width="1" />
<line x1="185.4" y1="1476.6" x2="214.7" y2="2022.6" stroke="#ebe2df" stroke-width="1" />
<line x1="302.4" y1="1427.1" x2="323.7" y2="1959.6" stroke="#ebe2df" stroke-width="1" />
<line x1="407.8" y1="1382.4" x2="421.9" y2="1902.7" stroke="#ebe2df" stroke-width="1" />
<line x1="506.6" y1="1417.4" x2="939.9" y2="1551.3" stroke="#ebe2df" stroke-width="1" />
<line x1="507.7" y1="1492.5" x2="936.9" y2="1632.1" stroke="#ebe2df" stroke-width="1" />
<line x1="508.8" y1="1567.0" x2="933.9" y2="1712.4" stroke="#ebe2df" stroke-width="1" />
<line x1="509.9" y1="1639.8" x2="930.9" y2="1790.7" stroke="#ebe2df" stroke-width="1" />
<line x1="511.0" y1="1711.9" x2="928.0" y2="1868.4" stroke="#ebe2df" stroke-width="1" />
<line x1="512.0" y1="1784.5" x2="925.1" y2="1946.6" stroke="#ebe2df" stroke-width="1" />
<line x1="542.1" y1="1351.7" x2="547.2" y2="1864.0" stroke="#ebe2df" stroke-width="1" />
<line x1="626.7" y1="1376.5" x2="626.4" y2="1896.3" stroke="#ebe2df" stroke-width="1" />
<line x1="710.2" y1="1400.9" x2="704.6" y2="1928.2" stroke="#ebe2df" stroke-width="1" />
<line x1="799.9" y1="1427.1" x2="788.5" y2="1962.5" stroke="#ebe2df" stroke-width="1" />
<line x1="889.6" y1="1453.4" x2="872.5" y2="1996.7" stroke="#ebe2df" stroke-width="1" />
<line x1="189.6" y1="2074.8" x2="547.2" y2="1864.0" stroke="#ebe2df" stroke-width="1" />
<line x1="270.9" y1="2114.9" x2="626.4" y2="1896.3" stroke="#ebe2df" stroke-width="1" />
<line x1="351.2" y1="2154.5" x2="704.6" y2="1928.2" stroke="#ebe2df" stroke-width="1" />
<line x1="437.4" y1="2197.0" x2="788.5" y2="1962.5" stroke="#ebe2df" stroke-width="1" />
<line x1="523.5" y1="2239.5" x2="872.5" y2="1996.7" stroke="#ebe2df" stroke-width="1" />
<line x1="633.2" y1="2223.2" x2="214.7" y2="2022.6" stroke="#ebe2df" stroke-width="1" />
<line x1="738.9" y1="2147.9" x2="323.7" y2="1959.6" stroke="#ebe2df" stroke-width="1" />
<line x1="834.1" y1="2080.0" x2="421.9" y2="1902.7" stroke="#ebe2df" stroke-width="1" />
</g>
<line x1="505.5" y1="1341.0" x2="513.0" y2="1850.0" stroke="#555" stroke-width="1.1" />
<line x1="154.5" y1="2057.5" x2="513.0" y2="1850.0" stroke="#333" stroke-width="1.2" />
<line x1="513.0" y1="1850.0" x2="922.4" y2="2017.1" stroke="#333" stroke-width="1.2" />
<ellipse cx="368.1" cy="1673.1" rx="42.1" ry="111.1" fill="#edf3dc" transform="rotate(14.4 368.1 1673.1)"/>
<ellipse cx="659.7" cy="1655" rx="68.6" ry="122.8" fill="#edf3dc" transform="rotate(-33.5 659.7 1655)"/>
<ellipse cx="523.1" cy="1994.3" rx="44.6" ry="79.3" fill="#edf3dc" transform="rotate(-48.3 523.1 1994.3)"/>
<line x1="360.0" y1="1623.6" x2="363.2" y2="1729.2" stroke="#3a3a33" stroke-width="1.6" />
<line x1="350.0" y1="1628.5" x2="368.3" y2="1620.1" stroke="#3a3a33" stroke-width="1.6" />
<line x1="354.4" y1="1735.4" x2="371.9" y2="1725.7" stroke="#3a3a33" stroke-width="1.6" />
<line x1="337.2" y1="1688.9" x2="385.4" y2="1665.3" stroke="#3a3a33" stroke-width="1.6" />
<line x1="337.2" y1="1677.0" x2="337.2" y2="1702.0" stroke="#3a3a33" stroke-width="1.6" />
<line x1="385.4" y1="1654.0" x2="385.4" y2="1678.5" stroke="#3a3a33" stroke-width="1.6" />
<ellipse cx="361.1" cy="1677.8" rx="6.3" ry="9.5" fill="#1f7a30" transform="rotate(12 361.1 1677.8)"/>
<line x1="658.3" y1="1601.0" x2="658.3" y2="1708.0" stroke="#3a3a33" stroke-width="1.6" />
<line x1="649.5" y1="1599.3" x2="668.6" y2="1604.5" stroke="#3a3a33" stroke-width="1.6" />
<line x1="649.5" y1="1704.5" x2="668.6" y2="1710.0" stroke="#3a3a33" stroke-width="1.6" />
<line x1="611.4" y1="1639.0" x2="707.9" y2="1672.4" stroke="#3a3a33" stroke-width="1.6" />
<line x1="611.4" y1="1625.0" x2="611.4" y2="1650.0" stroke="#3a3a33" stroke-width="1.6" />
<line x1="707.9" y1="1661.0" x2="707.9" y2="1685.0" stroke="#3a3a33" stroke-width="1.6" />
<ellipse cx="658.3" cy="1654.5" rx="7" ry="10" fill="#1f7a30" transform="rotate(-15 658.3 1654.5)"/>
<line x1="471.2" y1="1977.5" x2="564.8" y2="2018.0" stroke="#3a3a33" stroke-width="1.6" />
<line x1="461.1" y1="1981.7" x2="477.1" y2="1972.1" stroke="#3a3a33" stroke-width="1.6" />
<line x1="556.4" y1="2023.8" x2="570.7" y2="2014.6" stroke="#3a3a33" stroke-width="1.6" />
<line x1="494.0" y1="2011.2" x2="537.8" y2="1983.4" stroke="#3a3a33" stroke-width="1.6" />
<line x1="483.5" y1="2007.5" x2="502.7" y2="2015.9" stroke="#3a3a33" stroke-width="1.6" />
<line x1="530.2" y1="1978.8" x2="548.0" y2="1986.7" stroke="#3a3a33" stroke-width="1.6" />
<ellipse cx="515.9" cy="1997.2" rx="10" ry="5.5" fill="#1f7a30" transform="rotate(8 515.9 1997.2)"/>
<defs><pattern id="mesh" width="2.6" height="3.4" patternUnits="userSpaceOnUse" patternTransform="rotate(-10)"><path d="M1.3,0 L1.3,3.4 M0,0 L2.6,3.4" stroke="#7cc46a" stroke-width="0.5" fill="none"/></pattern>
<radialGradient id="gL" cx="0.5" cy="0.5" fx="0.38" fy="0.33" r="0.55"><stop offset="0" stop-color="#ffffff"/><stop offset="0.14" stop-color="#eef6c8"/><stop offset="0.5" stop-color="#b2d46a"/><stop offset="1" stop-color="#7ea238"/></radialGradient>
<radialGradient id="gM" cx="0.5" cy="0.5" fx="0.38" fy="0.33" r="0.55"><stop offset="0" stop-color="#f2fff0"/><stop offset="0.14" stop-color="#9adb84"/><stop offset="0.5" stop-color="#44ad38"/><stop offset="1" stop-color="#1f7a22"/></radialGradient>
<radialGradient id="gD" cx="0.5" cy="0.5" fx="0.38" fy="0.33" r="0.55"><stop offset="0" stop-color="#c8e6c4"/><stop offset="0.14" stop-color="#5c9c5c"/><stop offset="0.5" stop-color="#2b6a30"/><stop offset="1" stop-color="#173f1a"/></radialGradient>
</defs>
<ellipse cx="522" cy="1734" rx="68" ry="139" fill="#eaf5e4" transform="rotate(-12 522 1734)"/>
<circle cx="494.1" cy="1660.2" r="10.3" fill="url(#gL)"/>
<circle cx="485.9" cy="1661.3" r="10.3" fill="url(#gL)"/>
<circle cx="529.6" cy="1665.9" r="10.3" fill="url(#gM)"/>
<circle cx="534.7" cy="1681.8" r="10.3" fill="url(#gD)"/>
<circle cx="502.3" cy="1682.6" r="10.3" fill="url(#gD)"/>
<circle cx="534.7" cy="1683.6" r="10.3" fill="url(#gM)"/>
<circle cx="555.7" cy="1684.0" r="10.3" fill="url(#gD)"/>
<circle cx="464.7" cy="1691.9" r="10.3" fill="url(#gL)"/>
<circle cx="564.1" cy="1704.1" r="10.3" fill="url(#gM)"/>
<circle cx="525.0" cy="1713.5" r="10.3" fill="url(#gM)"/>
<circle cx="539.0" cy="1714.5" r="10.3" fill="url(#gM)"/>
<circle cx="482.1" cy="1715.7" r="10.3" fill="url(#gM)"/>
<circle cx="536.0" cy="1715.9" r="10.3" fill="url(#gM)"/>
<circle cx="574.2" cy="1716.6" r="10.3" fill="url(#gL)"/>
<circle cx="574.6" cy="1720.0" r="10.3" fill="url(#gM)"/>
<circle cx="506.7" cy="1722.4" r="10.3" fill="url(#gM)"/>
<circle cx="485.1" cy="1731.6" r="10.3" fill="url(#gL)"/>
<circle cx="500.0" cy="1738.4" r="10.3" fill="url(#gL)"/>
<circle cx="502.6" cy="1744.3" r="10.3" fill="url(#gL)"/>
<circle cx="553.7" cy="1750.8" r="10.3" fill="url(#gM)"/>
<circle cx="578.5" cy="1766.6" r="10.3" fill="url(#gD)"/>
<circle cx="485.0" cy="1773.1" r="10.3" fill="url(#gM)"/>
<circle cx="552.8" cy="1779.1" r="10.3" fill="url(#gL)"/>
<circle cx="517.0" cy="1782.5" r="10.3" fill="url(#gM)"/>
<circle cx="536.6" cy="1784.2" r="10.3" fill="url(#gL)"/>
<circle cx="561.5" cy="1791.4" r="10.3" fill="url(#gM)"/>
<circle cx="547.5" cy="1794.3" r="10.3" fill="url(#gM)"/>
<circle cx="540.3" cy="1803.1" r="10.3" fill="url(#gM)"/>
<circle cx="524.6" cy="1803.6" r="10.3" fill="url(#gM)"/>
<circle cx="536.1" cy="1816.0" r="10.3" fill="url(#gL)"/>
<circle cx="525.1" cy="1816.7" r="10.3" fill="url(#gM)"/>
<circle cx="539.0" cy="1836.8" r="10.3" fill="url(#gM)"/>
<circle cx="549.3" cy="1842.5" r="10.3" fill="url(#gM)"/>
<circle cx="534.0" cy="1844.2" r="10.3" fill="url(#gM)"/>
<ellipse cx="522" cy="1734" rx="68" ry="139" fill="#f2f9ee" fill-opacity="0.35" transform="rotate(-12 522 1734)"/>
<ellipse cx="522" cy="1734" rx="68" ry="139" fill="url(#mesh)" stroke="#6cb85a" stroke-width="1.2" transform="rotate(-12 522 1734)"/>
<line x1="505.5" y1="1341.0" x2="513.0" y2="1850.0" stroke="#555" stroke-width="1.1" />
<circle cx="495.1" cy="1603.8" r="10.3" fill="url(#gM)"/>
<circle cx="538.8" cy="1607.1" r="10.3" fill="url(#gM)"/>
<circle cx="467.8" cy="1611.5" r="10.3" fill="url(#gL)"/>
<circle cx="499.5" cy="1619.1" r="10.3" fill="url(#gD)"/>
<circle cx="482.0" cy="1620.2" r="10.3" fill="url(#gL)"/>
<circle cx="522.4" cy="1623.5" r="10.3" fill="url(#gM)"/>
<circle cx="536.6" cy="1624.6" r="10.3" fill="url(#gM)"/>
<circle cx="556.2" cy="1631.1" r="10.3" fill="url(#gL)"/>
<circle cx="566.0" cy="1632.2" r="10.3" fill="url(#gM)"/>
<circle cx="463.5" cy="1633.3" r="10.3" fill="url(#gM)"/>
<circle cx="501.7" cy="1633.3" r="10.3" fill="url(#gM)"/>
<circle cx="478.7" cy="1645.3" r="10.3" fill="url(#gM)"/>
<circle cx="443.8" cy="1647.5" r="10.3" fill="url(#gL)"/>
<circle cx="525.7" cy="1648.6" r="10.3" fill="url(#gM)"/>
<circle cx="462.4" cy="1651.8" r="10.3" fill="url(#gM)"/>
<circle cx="513.7" cy="1654.0" r="10.3" fill="url(#gL)"/>
<circle cx="492.9" cy="1657.3" r="10.3" fill="url(#gD)"/>
<circle cx="501.7" cy="1659.5" r="10.3" fill="url(#gD)"/>
<circle cx="514.8" cy="1666.0" r="10.3" fill="url(#gL)"/>
<circle cx="527.9" cy="1666.0" r="10.3" fill="url(#gM)"/>
<circle cx="482.0" cy="1670.4" r="10.3" fill="url(#gL)"/>
<circle cx="510.4" cy="1683.5" r="10.3" fill="url(#gM)"/>
<circle cx="497.3" cy="1692.2" r="10.3" fill="url(#gM)"/>
<circle cx="439.5" cy="1694.4" r="10.3" fill="url(#gL)"/>
<circle cx="543.1" cy="1700.9" r="10.3" fill="url(#gD)"/>
<circle cx="468.9" cy="1703.1" r="10.3" fill="url(#gL)"/>
<circle cx="527.9" cy="1703.1" r="10.3" fill="url(#gM)"/>
<circle cx="484.2" cy="1707.5" r="10.3" fill="url(#gM)"/>
<circle cx="545.3" cy="1711.9" r="10.3" fill="url(#gM)"/>
<circle cx="454.7" cy="1714.0" r="10.3" fill="url(#gM)"/>
<circle cx="495.1" cy="1716.2" r="10.3" fill="url(#gM)"/>
<circle cx="509.3" cy="1718.4" r="10.3" fill="url(#gL)"/>
<circle cx="608.6" cy="1718.4" r="10.3" fill="url(#gL)"/>
<circle cx="543.1" cy="1723.9" r="10.3" fill="url(#gD)"/>
<circle cx="565.0" cy="1725.0" r="10.3" fill="url(#gM)"/>
<circle cx="474.4" cy="1725.0" r="10.3" fill="url(#gM)"/>
<circle cx="488.6" cy="1727.1" r="10.3" fill="url(#gL)"/>
<circle cx="521.3" cy="1729.3" r="10.3" fill="url(#gM)"/>
<circle cx="582.4" cy="1731.5" r="10.3" fill="url(#gL)"/>
<circle cx="551.9" cy="1738.0" r="10.3" fill="url(#gM)"/>
<circle cx="471.1" cy="1742.4" r="10.3" fill="url(#gL)"/>
<circle cx="501.7" cy="1742.4" r="10.3" fill="url(#gM)"/>
<circle cx="519.1" cy="1744.6" r="10.3" fill="url(#gM)"/>
<circle cx="595.5" cy="1749.0" r="10.3" fill="url(#gM)"/>
<circle cx="538.8" cy="1753.3" r="10.3" fill="url(#gL)"/>
<circle cx="503.8" cy="1755.5" r="10.3" fill="url(#gL)"/>
<circle cx="453.6" cy="1758.8" r="10.3" fill="url(#gL)"/>
<circle cx="480.9" cy="1762.1" r="10.3" fill="url(#gM)"/>
<circle cx="518.0" cy="1764.2" r="10.3" fill="url(#gM)"/>
<circle cx="591.1" cy="1767.5" r="10.3" fill="url(#gD)"/>
<circle cx="527.9" cy="1770.8" r="10.3" fill="url(#gL)"/>
<circle cx="501.7" cy="1773.0" r="10.3" fill="url(#gL)"/>
<circle cx="454.7" cy="1774.1" r="10.3" fill="url(#gM)"/>
<circle cx="549.7" cy="1777.3" r="10.3" fill="url(#gM)"/>
<circle cx="580.2" cy="1777.3" r="10.3" fill="url(#gM)"/>
<circle cx="562.8" cy="1779.5" r="10.3" fill="url(#gD)"/>
<circle cx="595.5" cy="1785.0" r="10.3" fill="url(#gD)"/>
<circle cx="453.6" cy="1787.2" r="10.3" fill="url(#gL)"/>
<circle cx="508.2" cy="1788.2" r="10.3" fill="url(#gM)"/>
<circle cx="523.5" cy="1788.2" r="10.3" fill="url(#gM)"/>
<circle cx="471.1" cy="1790.4" r="10.3" fill="url(#gL)"/>
<circle cx="536.6" cy="1790.4" r="10.3" fill="url(#gM)"/>
<circle cx="584.6" cy="1794.0" r="10.3" fill="url(#gM)"/>
<circle cx="549.7" cy="1794.8" r="10.3" fill="url(#gM)"/>
<circle cx="549.7" cy="1802.7" r="10.3" fill="url(#gM)"/>
<circle cx="475.5" cy="1804.9" r="10.3" fill="url(#gM)"/>
<circle cx="532.2" cy="1809.3" r="10.3" fill="url(#gM)"/>
<circle cx="608.6" cy="1809.3" r="10.3" fill="url(#gL)"/>
<circle cx="490.8" cy="1814.7" r="10.3" fill="url(#gL)"/>
<circle cx="606.4" cy="1825.7" r="10.3" fill="url(#gM)"/>
<circle cx="527.9" cy="1827.8" r="10.3" fill="url(#gL)"/>
<circle cx="560.6" cy="1828.9" r="10.3" fill="url(#gD)"/>
<circle cx="589.0" cy="1831.1" r="10.3" fill="url(#gM)"/>
<circle cx="599.9" cy="1858.4" r="10.3" fill="url(#gM)"/>
<circle cx="512.6" cy="1862.8" r="10.3" fill="url(#gM)"/>
<circle cx="496.2" cy="1864.9" r="10.3" fill="url(#gL)"/>
<circle cx="523.5" cy="1868.2" r="10.3" fill="url(#gL)"/>
<line x1="120.8" y1="1504.0" x2="505.5" y2="1341.0" stroke="#1a1a1a" stroke-width="2.2" stroke-linecap="round"/>
<line x1="505.5" y1="1341.0" x2="943.0" y2="1469.0" stroke="#1a1a1a" stroke-width="2.2" stroke-linecap="round"/>
<line x1="943.0" y1="1469.0" x2="569.0" y2="1667.0" stroke="#1a1a1a" stroke-width="2.2" stroke-linecap="round"/>
<line x1="569.0" y1="1667.0" x2="120.8" y2="1504.0" stroke="#1a1a1a" stroke-width="2.2" stroke-linecap="round"/>
<line x1="120.8" y1="1504.0" x2="154.5" y2="2057.5" stroke="#1a1a1a" stroke-width="2.4" stroke-linecap="round"/>
<line x1="569.0" y1="1667.0" x2="574.8" y2="2264.8" stroke="#1a1a1a" stroke-width="2.2" stroke-linecap="round"/>
<line x1="943.0" y1="1469.0" x2="922.4" y2="2017.1" stroke="#1a1a1a" stroke-width="2" stroke-linecap="round"/>
<line x1="154.5" y1="2057.5" x2="574.8" y2="2264.8" stroke="#1a1a1a" stroke-width="2.6" stroke-linecap="round"/>
<line x1="574.8" y1="2264.8" x2="922.4" y2="2017.1" stroke="#1a1a1a" stroke-width="2.6" stroke-linecap="round"/>
<line x1="103.8" y1="1504.0" x2="120.8" y2="1504.0" stroke="#1a1a1a" stroke-width="2" />
<text x="92.8" y="1515.0" font-size="31.5" text-anchor="end" fill="#111" textLength="41.5" lengthAdjust="spacingAndGlyphs" >1.4</text>
<line x1="115.3" y1="1545.6" x2="123.3" y2="1545.6" stroke="#1a1a1a" stroke-width="2" />
<line x1="108.9" y1="1587.2" x2="125.9" y2="1587.2" stroke="#1a1a1a" stroke-width="2" />
<text x="98.0" y="1598.2" font-size="31.5" text-anchor="end" fill="#111" textLength="41.5" lengthAdjust="spacingAndGlyphs" >1.2</text>
<line x1="120.4" y1="1628.1" x2="128.4" y2="1628.1" stroke="#1a1a1a" stroke-width="2" />
<line x1="113.8" y1="1668.9" x2="130.8" y2="1668.9" stroke="#1a1a1a" stroke-width="2" />
<text x="102.5" y="1679.9" font-size="31.5" text-anchor="end" fill="#111" textLength="41.5" lengthAdjust="spacingAndGlyphs" >1.0</text>
<line x1="125.3" y1="1709.5" x2="133.3" y2="1709.5" stroke="#1a1a1a" stroke-width="2" />
<line x1="118.8" y1="1750.0" x2="135.8" y2="1750.0" stroke="#1a1a1a" stroke-width="2" />
<text x="108.5" y="1761.0" font-size="31.5" text-anchor="end" fill="#111" textLength="41.5" lengthAdjust="spacingAndGlyphs" >0.8</text>
<line x1="130.2" y1="1789.6" x2="138.2" y2="1789.6" stroke="#1a1a1a" stroke-width="2" />
<line x1="123.6" y1="1829.2" x2="140.6" y2="1829.2" stroke="#1a1a1a" stroke-width="2" />
<text x="113.7" y="1840.2" font-size="31.5" text-anchor="end" fill="#111" textLength="41.5" lengthAdjust="spacingAndGlyphs" >0.6</text>
<line x1="135.0" y1="1868.5" x2="143.0" y2="1868.5" stroke="#1a1a1a" stroke-width="2" />
<line x1="128.4" y1="1907.7" x2="145.4" y2="1907.7" stroke="#1a1a1a" stroke-width="2" />
<text x="119.0" y="1918.7" font-size="31.5" text-anchor="end" fill="#111" textLength="41.5" lengthAdjust="spacingAndGlyphs" >0.4</text>
<line x1="139.8" y1="1947.2" x2="147.8" y2="1947.2" stroke="#1a1a1a" stroke-width="2" />
<line x1="133.2" y1="1986.7" x2="150.2" y2="1986.7" stroke="#1a1a1a" stroke-width="2" />
<text x="123.4" y="1997.7" font-size="31.5" text-anchor="end" fill="#111" textLength="41.5" lengthAdjust="spacingAndGlyphs" >0.2</text>
<line x1="144.4" y1="2022.3" x2="152.4" y2="2022.3" stroke="#1a1a1a" stroke-width="2" />
<line x1="137.5" y1="2058.0" x2="154.5" y2="2058.0" stroke="#1a1a1a" stroke-width="2" />
<text x="128.1" y="2069.0" font-size="31.5" text-anchor="end" fill="#111" textLength="41.5" lengthAdjust="spacingAndGlyphs" >0.0</text>
<text x="6.5" y="1811.2" font-family="Liberation Serif, serif" font-size="75" fill="#111" stroke="#111" stroke-width="1.3" textLength="44" lengthAdjust="spacingAndGlyphs">α</text>
<line x1="189.6" y1="2074.8" x2="179.3" y2="2081.0" stroke="#1a1a1a" stroke-width="2.2" />
<line x1="270.9" y1="2114.9" x2="260.6" y2="2121.0" stroke="#1a1a1a" stroke-width="2.2" />
<line x1="351.2" y1="2154.5" x2="340.9" y2="2160.6" stroke="#1a1a1a" stroke-width="2.2" />
<line x1="437.4" y1="2197.0" x2="427.0" y2="2203.1" stroke="#1a1a1a" stroke-width="2.2" />
<line x1="523.5" y1="2239.5" x2="513.2" y2="2245.6" stroke="#1a1a1a" stroke-width="2.2" />
<line x1="230.3" y1="2094.9" x2="225.1" y2="2097.9" stroke="#1a1a1a" stroke-width="2" />
<line x1="311.1" y1="2134.7" x2="305.9" y2="2137.8" stroke="#1a1a1a" stroke-width="2" />
<line x1="394.3" y1="2175.8" x2="389.1" y2="2178.8" stroke="#1a1a1a" stroke-width="2" />
<line x1="480.4" y1="2218.3" x2="475.3" y2="2221.3" stroke="#1a1a1a" stroke-width="2" />
<line x1="564.5" y1="2259.7" x2="559.3" y2="2262.8" stroke="#1a1a1a" stroke-width="2" />
<text transform="matrix(0.88,-0.476,0.63,0.445,159.7,2105.6)" font-size="36" text-anchor="middle" fill="#111" >200</text>
<text transform="matrix(0.88,-0.476,0.63,0.445,236.9,2147.4)" font-size="36" text-anchor="middle" fill="#111" >300</text>
<text transform="matrix(0.88,-0.476,0.63,0.445,322.3,2188.8)" font-size="36" text-anchor="middle" fill="#111" >400</text>
<text transform="matrix(0.88,-0.476,0.63,0.445,405.5,2230.6)" font-size="36" text-anchor="middle" fill="#111" >500</text>
<text transform="matrix(0.88,-0.476,0.63,0.445,492.9,2275.4)" font-size="36" text-anchor="middle" fill="#111" >600</text>
<text transform="matrix(0.916,0.4,-0.865,0.5,231.9,2239.8)" font-size="50" text-anchor="middle" fill="#111" >Size (nm)</text>
<line x1="633.2" y1="2223.2" x2="643.5" y2="2226.8" stroke="#1a1a1a" stroke-width="2.2" />
<line x1="738.9" y1="2147.9" x2="749.2" y2="2151.5" stroke="#1a1a1a" stroke-width="2.2" />
<line x1="834.1" y1="2080.0" x2="844.4" y2="2083.6" stroke="#1a1a1a" stroke-width="2.2" />
<line x1="922.4" y1="2017.1" x2="932.7" y2="2020.7" stroke="#1a1a1a" stroke-width="2.2" />
<line x1="686.0" y1="2185.5" x2="691.7" y2="2187.5" stroke="#1a1a1a" stroke-width="2" />
<line x1="785.4" y1="2114.7" x2="791.1" y2="2116.7" stroke="#1a1a1a" stroke-width="2" />
<line x1="878.3" y1="2048.6" x2="883.9" y2="2050.5" stroke="#1a1a1a" stroke-width="2" />
<line x1="574.8" y1="2264.8" x2="580.4" y2="2266.8" stroke="#1a1a1a" stroke-width="2" />
<line x1="154.5" y1="2057.5" x2="149.3" y2="2060.6" stroke="#1a1a1a" stroke-width="2" />
<line x1="574.8" y1="2264.8" x2="569.6" y2="2267.9" stroke="#1a1a1a" stroke-width="2" />
<text transform="matrix(0.744,0.288,-0.92,0.59,668.1,2255.5)" font-size="37" text-anchor="middle" fill="#111" >10<tspan font-size="22" dy="-14">-1</tspan></text>
<text transform="matrix(0.744,0.288,-0.92,0.59,774.8,2179.9)" font-size="37" text-anchor="middle" fill="#111" >10<tspan font-size="22" dy="-14">-2</tspan></text>
<text transform="matrix(0.744,0.288,-0.92,0.59,870.4,2111.0)" font-size="37" text-anchor="middle" fill="#111" >10<tspan font-size="22" dy="-14">-3</tspan></text>
<text transform="matrix(0.744,0.288,-0.92,0.59,959.2,2045.6)" font-size="37" text-anchor="middle" fill="#111" >10<tspan font-size="22" dy="-14">-4</tspan></text>
<text transform="matrix(0.66,-0.466,0.898,0.44,902.0,2188.8)" font-size="54" text-anchor="middle" fill="#111" >D m (μm<tspan font-size="32" dy="-22">2</tspan><tspan dy="22">/s)</tspan></text>
<rect x="209.5" y="1394" width="59.5" height="30" fill="#bdd76a"/>
<rect x="269" y="1394" width="119" height="30" fill="#6db43f"/>
<rect x="388" y="1394" width="59.5" height="30" fill="#2c7a3a"/>
<rect x="209.5" y="1394" width="238" height="30" fill="none" stroke="#1a1a1a" stroke-width="1.6"/>
<line x1="269.0" y1="1424.0" x2="269.0" y2="1442.0" stroke="#1a1a1a" stroke-width="1.8" />
<line x1="328.5" y1="1424.0" x2="328.5" y2="1442.0" stroke="#1a1a1a" stroke-width="1.8" />
<line x1="388.0" y1="1424.0" x2="388.0" y2="1442.0" stroke="#1a1a1a" stroke-width="1.8" />
<text transform="translate(256,1472) rotate(47)" font-size="35" fill="#111">&lt;2*10<tspan font-size="22" dy="-14">3</tspan></text>
<text transform="translate(321,1463) rotate(47)" font-size="35" fill="#111">2~9*10<tspan font-size="22" dy="-14">3</tspan></text>
<text transform="translate(393,1464) rotate(47)" font-size="35" fill="#111">&gt;9*10<tspan font-size="22" dy="-14">3</tspan></text>
</svg></body></html>
